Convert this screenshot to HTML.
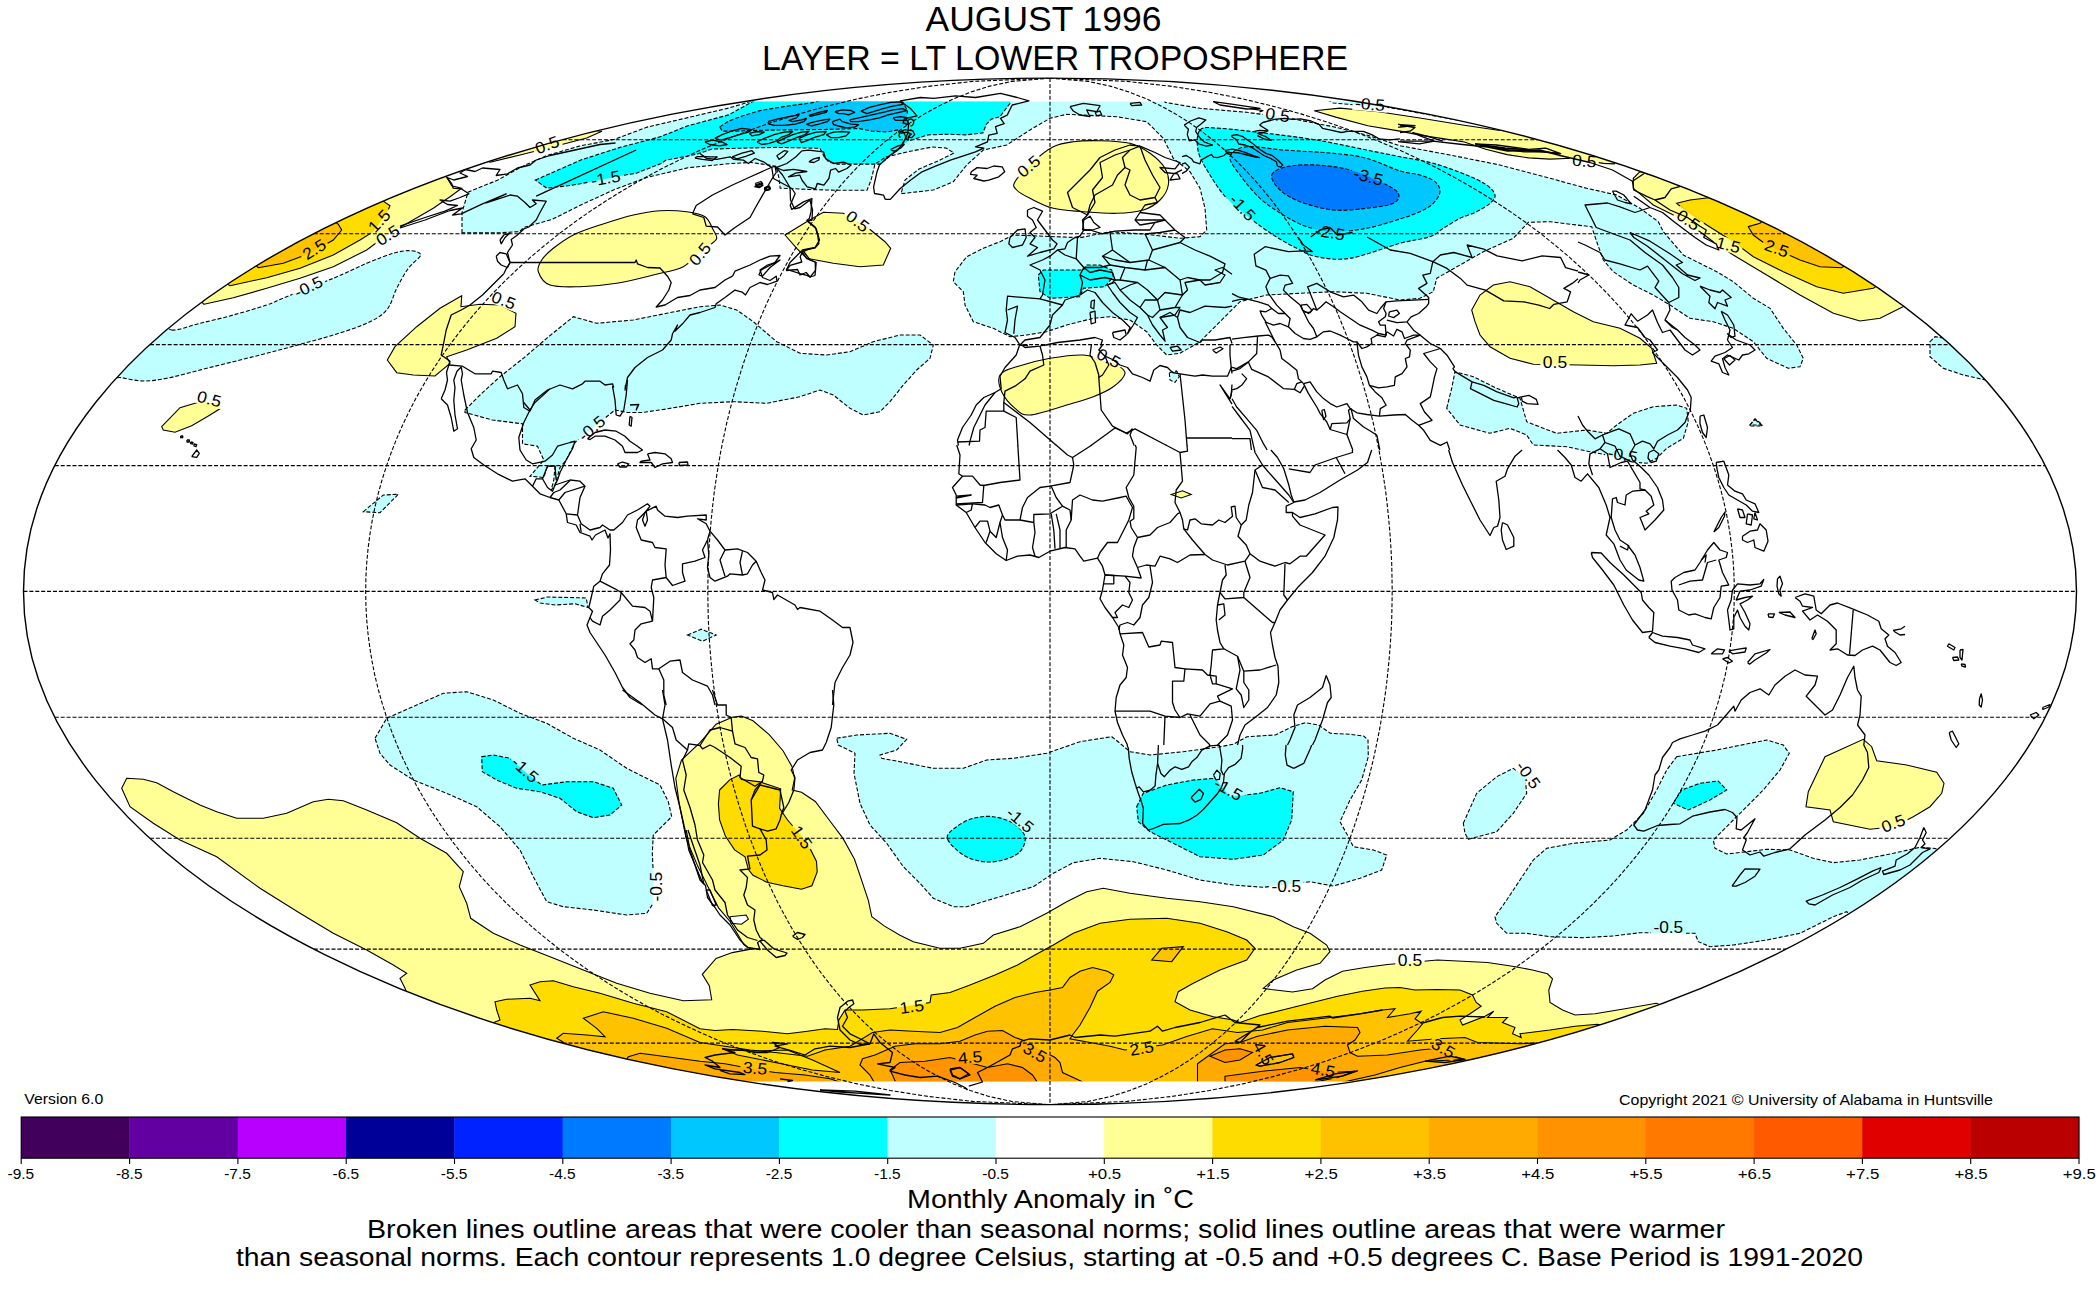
<!DOCTYPE html>
<html lang="en"><head><meta charset="utf-8"><title>UAH Global Temperature Anomaly - August 1996</title>
<style>html,body{margin:0;padding:0;background:#fff;}svg{display:block;}text{font-family:"Liberation Sans",sans-serif;fill:#000;}</style></head><body>
<svg width="2100" height="1300" viewBox="0 0 2100 1300">
<rect width="2100" height="1300" fill="#fff"/>
<defs><clipPath id="globe"><ellipse cx="1050.0" cy="591.4" rx="1026.5" ry="513.25"/></clipPath>
<clipPath id="data"><rect x="0" y="101.6" width="2100" height="979.6"/></clipPath></defs>
<g clip-path="url(#globe)"><g clip-path="url(#data)" stroke="none">
<path fill="#c0ffff" d="M462,232.9 462,212.6 468,192.2 497.9,180 522.3,166.4 546.7,155.6 579.3,146.1 614.6,139.3 647.2,127.1 687.9,117.6 728.6,108.1 755.7,99.9 760,80 1165,80 1165,102.3 1200,108.3 1246.7,112.3 1286.7,117.7 1333.3,126.7 1366.7,135 1400,145.7 1450,155 1500,165 1550,178.3 1586.7,188.3 1616.7,195 1640,208.3 1658.3,221.7 1663.3,231.7 1683.3,255 1716.7,271.7 1733.3,281.7 1753.3,298.3 1770,308.3 1783.3,328.3 1796.7,345 1803.3,358.3 1800,366.7 1788.3,368.3 1766.7,358.3 1753.3,341.7 1733.3,328.3 1713.3,321.7 1690,318.3 1670,305 1653.3,295 1633.3,285 1613.3,271.7 1603.3,260 1596.7,241.7 1591.7,226.7 1576.7,225 1550,221.7 1528.3,222.3 1513.3,238.3 1483.3,251.7 1460,265 1436.7,278.3 1433.3,291.7 1420,298.3 1400,300 1366.7,293.3 1333.3,291.7 1300,293.3 1266.7,295 1240,301.7 1220,321.7 1200,341.7 1180,353.3 1166.7,355 1156.7,345 1146.7,331.7 1130,320 1110,316.7 1093.3,318.3 1066.7,325 1046.7,331.7 1026.7,335 1010,336.7 993.3,328.3 973.3,321.7 965,305 963.3,291.7 953.3,281.7 955,271.7 966.7,256.7 983.3,248.3 1000,241.7 1013.3,235 1080,237.7 1110,231.7 1146.7,234.3 1180,238.3 1200,236.7 1206.7,230 1205,208.3 1200,188.3 1190,171.7 1173.3,158.3 1163.3,138.3 1146.7,121.7 1116.7,116.7 1066.7,114.3 1050,118.3 1030,130 1006.7,145 983.3,150 966.7,165 953.3,181.7 933.3,190 901,193.7 905,180 919,169 938,161 954,153 946,148 932,147 908,151.7 886,157 875,164 871.1,180 867,190.3 837.2,190.3 810,189.5 780.2,188.1 778.8,177.3 776.1,166.4 769.3,165.1 750.3,162.4 728.6,163.7 687.9,167.8 647.2,177.3 614.6,189.5 582,204.4 552.1,219.4 523.6,227.5 519.6,231.6 497.9,232.9Z"/>
<path fill="#00ffff" d="M535.3,180 560.3,169.1 582,159.6 620,147.4 660.7,136.6 687.9,125.7 728.6,114.9 755.7,99.9 760,80 1012,80 1010,103.3 1000,116.7 991.4,119.1 986.3,124.3 982.9,132.9 965.7,134.9 948.6,134.2 928,134.9 907.4,141.4 897.1,150 886.9,158.6 880,164.1 837.1,164.1 828.6,162 824.3,156.9 820,148.3 777.1,147.4 736,148.3 712,149.1 696.6,154.3 665.7,160.3 660.7,163.7 636.3,173.2 620,175.9 592.9,181.4 571.2,185.4 546.7,188.1Z"/>
<path fill="#00c8ff" d="M719.7,126.9 729.1,120.9 742.9,115.7 760,110.6 785.7,106.3 811.4,102.9 821.7,100.3 821.7,93.4 902.3,93.4 902.3,101.1 907.4,110.6 906.6,122.6 900.6,129.4 886.9,132 871.4,131.1 859.4,128.6 828.6,129.4 794.3,129.8 760,130.3 736,131.1 722.3,131.1Z"/>
<path fill="#00ffff" d="M1200,130C1203.6,126.1 1208.9,127.8 1220,128.3C1231.1,128.9 1250.6,131.4 1266.7,133.3C1282.8,135.3 1300,137.2 1316.7,140C1333.3,142.8 1352.8,147.2 1366.7,150C1380.6,152.8 1388.9,154.4 1400,156.7C1411.1,158.9 1422.2,160.3 1433.3,163.3C1444.4,166.4 1457.8,171.4 1466.7,175C1475.6,178.6 1481.9,181.7 1486.7,185C1491.4,188.3 1494.4,191.9 1495,195C1495.6,198.1 1493.1,200.6 1490,203.3C1486.9,206.1 1481.7,209.2 1476.7,211.7C1471.7,214.2 1465.6,215.6 1460,218.3C1454.4,221.1 1448.3,225.3 1443.3,228.3C1438.3,231.4 1437.2,234.2 1430,236.7C1422.8,239.2 1413.3,239.7 1400,243.3C1386.7,246.9 1363.9,256.1 1350,258.3C1336.1,260.6 1325.6,258.3 1316.7,256.7C1307.8,255 1303.9,251.9 1296.7,248.3C1289.4,244.7 1281.1,240 1273.3,235C1265.6,230 1257.8,224.4 1250,218.3C1242.2,212.2 1233.3,205.6 1226.7,198.3C1220,191.1 1214.7,182.8 1210,175C1205.3,167.2 1200,159.2 1198.3,151.7C1196.7,144.2 1196.4,133.9 1200,130Z"/>
<path fill="#00c8ff" d="M1230,156.7C1231.1,151.9 1237.8,147.8 1246.7,146.7C1255.6,145.6 1268.9,148.9 1283.3,150C1297.8,151.1 1319.4,151.9 1333.3,153.3C1347.2,154.7 1355.6,155.4 1366.7,158.3C1377.8,161.3 1391.1,168.2 1400,171C1408.9,173.8 1414.2,173.2 1420,175C1425.8,176.8 1431.7,178.9 1435,181.7C1438.3,184.4 1440.3,188.1 1440,191.7C1439.7,195.3 1436.7,200 1433.3,203.3C1430,206.7 1425.6,209.1 1420,211.7C1414.4,214.3 1408.9,216.2 1400,219C1391.1,221.8 1377.8,226.2 1366.7,228.3C1355.6,230.4 1343.3,231.9 1333.3,231.7C1323.3,231.4 1315,229.4 1306.7,226.7C1298.3,223.9 1291.1,219.7 1283.3,215C1275.6,210.3 1267.2,205 1260,198.3C1252.8,191.7 1245,181.9 1240,175C1235,168.1 1228.9,161.4 1230,156.7Z"/>
<path fill="#007aff" d="M1271.7,175C1272.8,171.1 1279.2,168.3 1286.7,166.7C1294.2,165 1306.1,164.4 1316.7,165C1327.2,165.6 1338.9,166.9 1350,170C1361.1,173.1 1375.3,179.4 1383.3,183.3C1391.4,187.2 1396.7,190 1398.3,193.3C1400,196.7 1398.6,200.8 1393.3,203.3C1388.1,205.8 1376.7,207.2 1366.7,208.3C1356.7,209.4 1344.4,211.1 1333.3,210C1322.2,208.9 1308.9,205 1300,201.7C1291.1,198.3 1284.7,194.4 1280,190C1275.3,185.6 1270.6,178.9 1271.7,175Z"/>
<path fill="#00ffff" d="M1038.3,275 1043.3,270 1083.3,270 1086.7,265 1100,265 1111.7,270 1113.3,276.7 1105,286.7 1083.3,288.3 1080,296.7 1050,298.3 1040,291.7Z"/>
<path fill="#ffff96" d="M204,304.3 233.3,297.7 266.7,288.3 300,278.3 333.3,266.7 366.7,250 386.7,235 410,221.7 433.3,208.3 450,196.7 461.7,188.3 451.7,185.7 447.3,178.3 440,165 373.3,188.3 306.7,220 250,253.3 195,295Z"/>
<path fill="#ffdc00" d="M230,285.7 266.7,277.7 300,268.3 333.3,255 360,240 373.3,231.7 386.7,213.3 390,205.7 384,201.7 376.7,190 308.3,221.7 253.3,255 223.3,281.7Z"/>
<path fill="#ffc200" d="M258.3,267.7 283.3,263.3 310,253.3 333.3,240 341.7,230 338.3,224.3 326.7,215 283.3,238.3 251.7,261.7Z"/>
<path fill="#c0ffff" d="M171.7,330C178.3,330.8 189.7,325.8 200,323.3C210.3,320.8 222.2,318.1 233.3,315C244.4,311.9 257.8,308.1 266.7,305C275.6,301.9 275.6,301.1 286.7,296.7C297.8,292.2 320,283.9 333.3,278.3C346.7,272.8 356.7,267.5 366.7,263.3C376.7,259.2 386.1,255.4 393.3,253.3C400.6,251.2 405.4,250.4 410,250.7C414.6,250.9 420.9,252.1 420.7,255C420.4,257.9 412.3,262.8 408.3,268.3C404.3,273.9 400.3,281.4 396.7,288.3C393.1,295.3 391.7,304.2 386.7,310C381.7,315.8 375.6,319.2 366.7,323.3C357.8,327.5 344.4,331.5 333.3,335C322.2,338.5 311.1,341.3 300,344.3C288.9,347.4 277.8,350.4 266.7,353.3C255.6,356.2 244.4,358.9 233.3,361.7C222.2,364.4 211.1,367.2 200,370C188.9,372.8 176.1,376.5 166.7,378.3C157.2,380.2 150.8,381.1 143.3,381C135.8,380.9 127.2,378.7 121.7,377.7C116.1,376.7 108.1,381.6 110,375C111.9,368.4 125,347.8 133.3,338.3C141.7,328.9 153.6,319.7 160,318.3C166.4,316.9 165,329.2 171.7,330Z"/>
<path fill="#ffff96" d="M161.7,426.7 180,407.7 200,401.7 216.7,403.3 220.7,408.3 210,415 191.7,425.7 175,432.3 163.3,430Z"/>
<path fill="#ffff96" d="M461.7,295.7 461,306.7 480,304.3 500,305 516,313.3 515,326.7 496.7,338.3 466.7,350 446.7,356.7 450,363.3 435,376 413.3,375 396.7,372.7 387.3,360 395,346.7 416.7,326.7 440,308.3Z"/>
<path fill="#ffff96" d="M490,162.3 520,155 560,145 586.7,138 602,131.3 586.7,130 486.7,156.7Z"/>
<path fill="#ffff96" d="M538.3,271.7C536.9,267.5 539.2,263.9 541.7,260C544.2,256.1 548.1,252.5 553.3,248.3C558.6,244.2 565.6,238.9 573.3,235C581.1,231.1 590,228.3 600,225C610,221.7 623.3,217.4 633.3,215C643.3,212.6 651.1,211.2 660,210.7C668.9,210.1 679.2,210.7 686.7,211.7C694.2,212.7 700.6,213.6 705,216.7C709.4,219.7 711.4,226.4 713.3,230C715.3,233.6 717.2,235.8 716.7,238.3C716.1,240.8 712.8,242.8 710,245C707.2,247.2 704.4,248.1 700,251.7C695.6,255.3 691.1,262.8 683.3,266.7C675.6,270.6 664.4,272.2 653.3,275C642.2,277.8 628.9,281.4 616.7,283.3C604.4,285.3 591.1,286.4 580,286.7C568.9,286.9 556.9,287.5 550,285C543.1,282.5 539.7,275.8 538.3,271.7Z"/>
<path fill="#c0ffff" d="M465,410 480,395 500,376.7 523.3,358.3 546.7,338.3 573.3,316.7 596.7,323.3 633.3,320 666.7,313.3 700,306.7 720,305 736.7,310 753.3,321.7 776.7,341.7 800,353.3 826.7,355 850,351.7 873.3,341.7 900,335 920,335 933.3,345 930,358.3 916.7,370 903.3,385 890,401.7 880,411.7 863.3,415 850,408.3 833.3,395 820,390 800,396.7 766.7,403.3 733.3,401.7 700,403.3 667.5,408.8 642.5,412.5 627.5,412.5 615,410 577.5,440 575,442.5 566.2,460 560,467.5 555,485 551.2,490 553.8,480 555,466.2 547.5,466.2 543.8,477.5 530,476.2 543.8,460 537.5,446.2 522.5,443.8 522.5,423.8 492.5,420 465,412.5Z"/>
<path fill="#ffff96" d="M1015,181.7C1017.8,176.9 1026.9,167.5 1033.3,161.7C1039.7,155.8 1046.7,150 1053.3,146.7C1060,143.3 1065.6,142.7 1073.3,141.7C1081.1,140.7 1090.6,140.4 1100,140.7C1109.4,140.9 1121.7,141.2 1130,143.3C1138.3,145.4 1144.2,149.2 1150,153.3C1155.8,157.5 1161.9,163.1 1165,168.3C1168.1,173.6 1169.2,179.7 1168.3,185C1167.5,190.3 1164.2,195.8 1160,200C1155.8,204.2 1150.6,207.8 1143.3,210C1136.1,212.2 1126.7,213.1 1116.7,213.3C1106.7,213.6 1093.9,212.5 1083.3,211.7C1072.8,210.8 1062.2,210.6 1053.3,208.3C1044.4,206.1 1036.1,201.4 1030,198.3C1023.9,195.3 1019.2,192.8 1016.7,190C1014.2,187.2 1012.2,186.4 1015,181.7Z"/>
<path fill="#ffff96" d="M785,235 806.7,221.7 823.3,212.3 843.3,213.3 866.7,226.7 885,241.7 890.7,248.3 883.3,265 860,266.7 833.3,263.3 806.7,258.3 796.7,248.3Z"/>
<path fill="#ffff96" d="M1000,375C1002.5,370.8 1008.3,369.4 1016.7,366.7C1025,363.9 1038.9,360.3 1050,358.3C1061.1,356.4 1075,354.7 1083.3,355C1091.7,355.3 1094.4,358.3 1100,360C1105.6,361.7 1112.5,362.8 1116.7,365C1120.8,367.2 1125.6,369.7 1125,373.3C1124.4,376.9 1118.6,382.8 1113.3,386.7C1108.1,390.6 1101.1,393.6 1093.3,396.7C1085.6,399.7 1077.2,401.9 1066.7,405C1056.1,408.1 1038.6,414.4 1030,415C1021.4,415.6 1019.7,412.2 1015,408.3C1010.3,404.4 1004.2,397.2 1001.7,391.7C999.2,386.1 997.5,379.2 1000,375Z"/>
<path fill="#ffff96" d="M1171.2,494.5 1182.5,490.8 1191.2,494.5 1181.2,498Z"/>
<path fill="#c0ffff" d="M1169.3,372.7 1176.7,371 1179.3,376.7 1175,382.3 1170,380Z"/>
<path fill="#ffff96" d="M1314.3,110.7 1340,108.1 1378.6,111.8 1421.4,118.2 1464.3,125.3 1496.4,130 1528.6,133.2 1571.4,142.9 1618.5,155.7 1614.3,163.9 1603.5,163.4 1571.4,158.3 1550,159.1 1528.6,157.9 1507.1,154.6 1485.7,149.3 1464.3,142 1442.8,138.6 1421.4,135.4 1400,131.1 1367.8,125.7 1335.7,117.1Z"/>
<path fill="#ffff96" d="M1633.3,178.3 1633.3,188.3 1653.3,205 1673.3,215 1700,231.7 1713.3,241.7 1733.3,255 1766.7,275 1800,295 1833.3,313.3 1860,321 1880,318.3 1900,308.3 1913.3,301.7 1850,261.7 1766.7,215 1716.7,195 1640,171.7Z"/>
<path fill="#ffdc00" d="M1676.7,203.3 1686.7,211.7 1706.7,225 1733.3,241.7 1753.3,256.7 1783.3,271.7 1816.7,286.7 1843.3,293.3 1873.3,288.3 1883.3,281.7 1846.7,260 1766.7,216.7 1716.7,196.7 1690,200Z"/>
<path fill="#ffc200" d="M1748.3,226.7 1753.3,235 1766.7,245 1800,260 1820,266.7 1841.7,267.7 1850,261.7 1766.7,216.7 1760,223.3Z"/>
<path fill="#ffff96" d="M1471.7,310 1480,295 1493.3,285 1510,281.7 1530,286.7 1550,298.3 1573.3,311.7 1593.3,321.7 1620,328.3 1640,338.3 1651.7,348.3 1656.7,363.3 1640,365 1613.3,365.7 1580,365 1533.3,364.3 1510,358.3 1490,346.7 1480,335 1475,321.7Z"/>
<path fill="#c0ffff" d="M1446.7,408.3 1451.7,388.3 1455,371.7 1473.3,376.7 1496.7,388.3 1520,398.3 1526.7,421.7 1543.3,428.3 1556.7,433.3 1586.7,430 1606.7,433.3 1616.7,425 1633.3,413.3 1653.3,406.7 1676.7,405 1686.7,408.3 1688.3,421.7 1683.3,438.3 1666.7,448.3 1656.7,458.3 1646.7,463.3 1630,461.7 1606.7,455 1590,451.7 1566.7,446.7 1533.3,445 1526.7,435 1510,428.3 1490,433.3 1460,425Z"/>
<path fill="#c0ffff" d="M1930,341.7 1935,336.7 1966.7,341.7 1993.3,381.7 1963.3,375 1943.3,368.3 1930,356.7Z"/>
<path fill="#c0ffff" d="M1755,419.3 1762.3,426 1749.3,426Z"/>
<path fill="#c0ffff" d="M375,738.3 386.7,718.3 416.7,705 443.3,693.3 466.7,691.7 493.3,700 520,713.3 546.7,723.3 573.3,738.3 600,750 626.7,768.3 660,785 668.3,801.7 671.7,816.7 653.3,835 652.3,853.3 653.3,873.3 653.3,903.3 646.7,913.3 626.7,915 593.3,910 563.3,906.7 546.7,901.7 533.3,876.7 520,850 500,826.7 476.7,806.7 446.7,793.3 413.3,780 390,765 380,753.3Z"/>
<path fill="#00ffff" d="M481.7,756.7 493.3,755 510,758.3 526.7,773.3 541.7,785 566.7,781.7 593.3,781.7 613.3,788.3 621.7,805 610,815 593.3,817.7 576.7,811.7 560,798.3 540,791.7 516.7,788.3 496.7,780 482.3,771.7Z"/>
<path fill="#ffff96" d="M121.7,788.3 126.7,778.3 143.3,779.3 156.7,782.7 173.3,791.7 200,805 216.7,811.7 236.7,818.3 263.3,818.3 286.7,813.3 313.3,801.7 328.3,799.3 343.3,800.7 366.7,810 396.7,822.7 420,838.3 446.7,853.3 463.3,871.7 459.3,886.7 466.7,903.3 470.7,918.3 493.3,933.3 520,945 550,956.7 583.3,970 616.7,983.3 650,993.3 683.3,1000.7 711.7,999.7 709.3,985.7 702.3,974.3 716.1,958.4 732.3,952.6 750.7,949.1 743.8,944.5 736.9,933 730,921.5 718.4,907.6 709.2,889.2 697.7,866.1 686.1,838.4 679.2,803.8 675.8,778.4 681.5,760 700,742.7 716.1,724.2 732.3,717.3 741.5,716.1 753,720.8 769.2,734.6 783,750.7 792.2,766.9 794.6,778.4 792.2,790 801.5,792.3 815.3,801.5 829.2,820 843,838.4 854.5,859.2 861.5,879.9 868.4,900.7 871.8,916.8 884.5,926.1 900,935.3 913.3,941.7 940,948.3 960,948.3 983.3,943.3 993.3,935 1020,926.7 1046.7,913.3 1066.7,901.7 1086.7,891.7 1103.3,888.3 1130,893.3 1166.7,898.3 1200,901.7 1233.3,906.7 1273.3,916.7 1293.3,926.7 1310,933.3 1326.7,945 1330,951.7 1320,963.3 1296.7,970 1273.3,980 1263.3,988.3 1271.2,989.5 1292.5,992 1312.5,988.8 1325,980 1342.5,971.2 1365,967.5 1387.5,964.5 1437.5,960 1462.5,961.2 1487.5,962.5 1512.5,966.2 1532.5,970 1547.5,973.8 1552.5,978.8 1548.8,990 1550,1002.5 1562.5,1010 1575,1015 1595,1013.8 1625,1008.8 1656.2,1003.2 1690,1015 1500,1125 1050,1135 600,1105 415,1015 405,988.3 400,978.3 406.7,973.3 393.3,965 366.7,950 333.3,933.3 300,913.3 260,888.3 216.7,856.7 180,840 153.3,823.3 130,806.7Z"/>
<path fill="#ffffff" d="M730,916.8 746.1,915 748.4,919.1 741.5,924.2 731.1,923.3Z"/>
<path fill="#ffdc00" d="M719.6,790 730,779.6 739.2,775 741.5,779.6 760,781.9 780.7,788.8 779.6,808.4 787.6,820 801.5,836.1 810.7,849.9 816.5,861.5 817.2,871.9 811.9,885.7 801.5,889.2 783,885.7 766.9,882.2 753,875.3 748.4,869.6 745,856.9 734.6,849.9 725.4,836.1 719.6,820 718.4,803.8Z"/>
<path fill="#ffdc00" d="M495,1001.7 506.7,999.3 530,998.3 540,1000.7 530,985 540,981.7 553.3,980.7 573.3,986.7 600,993.3 633.3,1003.3 666.7,1011.7 700,1028.8 715,1030.5 732.5,1029.5 762.5,1031.2 787.5,1033.8 807.5,1031.2 825,1028.8 837.5,1029.5 838.8,1020 845,1010 862.5,1010 890,1008.8 930,1002.5 931.2,995 950,992.5 970,985 995,975 1017.5,965 1035,955 1053.3,945 1073.3,933.3 1100,923.3 1130,919.3 1166.7,918.3 1200,923.3 1226.7,931.7 1246.7,940 1255,948.3 1246.7,960 1220,970 1193.3,983.3 1178.3,991.7 1175,1001.7 1190,1010 1213.3,1016.7 1233.3,1020 1240,1022.5 1260,1015.5 1287.5,1008.8 1312.5,1002.5 1337.5,996.2 1362.5,991.2 1385,988 1400,987.5 1415,990 1437.5,989.5 1460,990 1472.5,995 1476.2,1002.5 1481.2,1006.2 1470,1013.8 1460,1020 1462.5,1025 1485,1016.2 1493.8,1011.2 1487.5,1017.5 1507.5,1017.5 1502.5,1022.5 1515,1027.5 1512.5,1033.8 1521.2,1037.5 1520,1033.8 1550,1030 1575,1026.2 1597.5,1024.2 1625,1032 1400,1125 1050,1135 700,1115 475,1030 500,1020 496.7,1010Z"/>
<path fill="#ffc200" d="M1151.7,960 1161.7,948.3 1183.3,946.7 1171.7,961.7Z"/>
<path fill="#ffc200" d="M583.3,1018.3 603.3,1011.7 633.3,1018.3 666.7,1028.3 700,1042.5 725,1046.2 750,1050 775,1052.5 807.5,1056.2 825,1050 850,1046.2 872.5,1032.5 890,1030 912.5,1031.2 940,1032.5 957.5,1027.5 975,1017.5 995,1006.2 1015,997.5 1035,992.5 1050,990 1062.5,987.5 1070,977.5 1080,971.2 1092.5,967.5 1107.5,971.2 1113.8,975 1110,982.5 1097.5,991.2 1090,1007.5 1080,1025 1072.5,1035 1070,1038.8 1090,1042.5 1110,1046.2 1125,1050 1162.5,1045 1187.5,1036.2 1212.5,1028.8 1237.5,1032.5 1262.5,1030 1287.5,1022.5 1330,1017.5 1360,1013.8 1382.5,1010 1395,1008.8 1387.5,1017.5 1410,1013.8 1421.2,1011.2 1415,1018.8 1422.5,1023.8 1417.5,1030 1407.5,1041.2 1437.5,1038.8 1465,1037.5 1477.5,1042.5 1520,1043.8 1535,1043 1565,1052 1400,1125 1050,1135 700,1120 545,1052 563.3,1042.3 556.7,1038.3 563.3,1033.3 586.7,1035 605,1036.7 596.7,1028.3Z"/>
<path fill="#ffdc00" d="M722.5,1048.8 750,1051.2 787.5,1050 812.5,1060 840,1072.5 812.5,1070 775,1062.5 737.5,1055Z"/>
<path fill="#ffaa00" d="M860,1065 862.5,1058.8 875,1055 895,1046.2 915,1043.8 940,1043.8 960,1041.2 975,1035 987.5,1031.2 1002.5,1030.5 1015,1037.5 1022.5,1040 1055,1057.5 1060,1062.5 1062.5,1072.5 1082.5,1081.8 1082.5,1092.5 880,1092.5 870,1075Z"/>
<path fill="#ffaa00" d="M628.3,1056.7 640,1053.3 666.7,1056.7 700,1061.2 725,1063.8 745,1067.5 775,1072.5 805,1075 830,1078.8 845,1083.8 850,1105 615,1078Z"/>
<path fill="#ffaa00" d="M1197.5,1063.8 1225,1043.8 1240,1042.5 1257.5,1036.2 1287.5,1030 1325,1026.2 1357.5,1027.5 1360,1032.5 1355,1040 1347.5,1045 1350,1052.5 1357.5,1056.2 1387.5,1055 1420,1050 1432.5,1048.8 1450,1055 1465,1059.5 1425,1061.2 1400,1067.5 1375,1075 1325,1086.2 1225,1097.5 1197.5,1090Z"/>
<path fill="#ffc200" d="M1256.2,1065 1270,1057.5 1292.5,1053.8 1293.8,1057.5 1280,1062.5 1260,1066.2Z"/>
<path fill="#ff9200" d="M890,1070 900,1062.5 925,1061.2 950,1057.5 987.5,1067.5 1007.5,1063.8 1022.5,1067.5 1032.5,1075 1037.5,1082.5 1037.5,1092.5 900,1092.5 892.5,1075Z"/>
<path fill="#ff9200" d="M1225,1050 1240,1048.8 1252.5,1052.5 1240,1060 1225,1062.5 1210,1056.2Z"/>
<path fill="#ff9200" d="M1225,1076.2 1262.5,1071.2 1300,1067.5 1330,1072.5 1355,1071.2 1337.5,1077.5 1312.5,1082.5 1225,1092.5Z"/>
<path fill="#c0ffff" d="M836.7,738.3 856.7,735 890,733.3 906.7,739.3 896.7,750 880,755 881.7,758.3 900,761.7 933.3,768.3 963.3,768.3 986.7,760 1013.3,758.3 1046.7,753.3 1080,741.7 1111.7,736.7 1120,743.3 1130,751.7 1150,755 1183.3,751.7 1220,746.7 1233.3,744.3 1247,736.7 1275.3,735 1292,726.7 1305.3,722.7 1318.7,725 1330.3,733.3 1350.3,734.3 1363.7,736 1368,740 1368.3,756.7 1361.7,780 1350,800 1340,821.7 1348.3,836.7 1353.3,846.7 1373.3,850 1386.7,855 1381.7,870 1360,878.3 1333.3,886 1310,881.7 1263.3,887.3 1233.3,885 1200,880 1166.7,870 1133.3,861.7 1100,858.3 1073.3,862.7 1053.3,873.3 1033.3,886.7 1000,896.7 966.7,906.7 953.3,906.7 933.3,898.3 920,883.3 903.3,866.7 886.7,843.3 870,825 860,803.3 854,773.3 855,753.3 838.3,745Z"/>
<path fill="#00ffff" d="M947.3,838.3C946.2,833.6 952.3,830 956.7,826.7C961,823.3 967.2,820 973.3,818.3C979.4,816.7 986.7,815.8 993.3,816.7C1000,817.5 1008.1,820 1013.3,823.3C1018.6,826.7 1023.9,831.9 1025,836.7C1026.1,841.4 1023.6,847.8 1020,851.7C1016.4,855.6 1009.4,858.3 1003.3,860C997.2,861.7 990,862.5 983.3,861.7C976.7,860.8 969.3,858.9 963.3,855C957.3,851.1 948.4,843.1 947.3,838.3Z"/>
<path fill="#00ffff" d="M1136.7,806.7 1143.3,793.3 1166.7,785 1193.3,780 1215,778.3 1230,796.7 1260,793.3 1280,787.7 1293.3,791.7 1291.7,820 1283.3,840 1263.3,855 1233.3,859.3 1200,856.7 1173.3,843.3 1150,831.7 1138.3,821.7Z"/>
<path fill="#c0ffff" d="M1463.3,823.3 1476.7,793.3 1496.7,776.7 1513.3,768.3 1525,776.7 1526.7,793.3 1513.3,813.3 1496.7,831.7 1468.3,839.3 1465,833.3Z"/>
<path fill="#c0ffff" d="M1676.7,756.7 1716.7,750 1750,743.3 1766.7,740 1783.3,745 1789.3,753.3 1780,770 1763.3,790 1746.7,806.7 1733.3,820 1720,833.3 1713.3,840 1715,848.3 1726.7,854 1746.7,851.7 1766.7,849.3 1790,850 1813.3,858.3 1833.3,862.7 1860,860 1893.3,853.3 1920,847.3 1933.3,848.3 1960,853.3 1906.7,903.3 1863.3,926.7 1846.7,911.7 1833.3,916.7 1800,933.3 1766.7,940 1733.3,945 1710,946.7 1698.3,941.7 1695,933.3 1640,932.7 1613.3,936 1583.3,937.7 1550,936.7 1526.7,933.3 1506.7,933.3 1496.7,923.3 1495,916.7 1506.7,900 1520,880 1533.3,860 1546.7,848.3 1573.3,843.3 1610,840 1626.7,830 1643.3,813.3 1656.7,790 1666.7,770Z"/>
<path fill="#00ffff" d="M1673.3,803.3 1681.7,790 1700,783.3 1718.3,781 1726.7,790 1710,800 1688.3,810Z"/>
<path fill="#ffff96" d="M1806,806.7 1808.3,791.7 1825,756.7 1863.3,739.3 1871.7,746.7 1876.7,760.7 1906.7,765 1936.7,772.3 1944,783.3 1941.7,793.3 1930,806.7 1913.3,816.7 1893.3,826.7 1870,829.3 1833.3,821.7 1830,810Z"/>
<path fill="#c0ffff" d="M535,600 547.5,597 570,597.5 586.2,598 588,607.5 575,603.8 555,605 540,603Z"/>
<path fill="#c0ffff" d="M687.5,635 701.2,629.2 716.2,635 702.5,641.2Z"/>
<path fill="#c0ffff" d="M1750,425 1755,418.8 1762.5,425Z"/>
<path fill="#c0ffff" d="M363.3,511.7 383.3,495 398.3,494.3 380,512.7Z"/>
<path fill="#c0ffff" d="M1316.7,95 1333.3,103 1353.3,104.7 1386.7,107.3 1400,109.3 1433.3,115.7 1466.7,121.7 1466.7,95Z"/>
<mask id="lm" maskUnits="userSpaceOnUse" x="0" y="0" width="2100" height="1300"><rect width="2100" height="1300" fill="#fff"/>
<rect transform="translate(547.1,145) rotate(-21)" x="-14.7" y="-7" width="29.3" height="14" fill="#000"/>
<rect transform="translate(605.6,178.4) rotate(-10)" x="-17.4" y="-7" width="34.8" height="14" fill="#000"/>
<rect transform="translate(379.3,221) rotate(-47)" x="-14.7" y="-7" width="29.3" height="14" fill="#000"/>
<rect transform="translate(387.7,235.2) rotate(-32)" x="-14.7" y="-7" width="29.3" height="14" fill="#000"/>
<rect transform="translate(314.2,249.4) rotate(-32)" x="-14.7" y="-7" width="29.3" height="14" fill="#000"/>
<rect transform="translate(308.4,287) rotate(-26)" x="-17.4" y="-7" width="34.8" height="14" fill="#000"/>
<rect transform="translate(503.7,300.3) rotate(21)" x="-14.7" y="-7" width="29.3" height="14" fill="#000"/>
<rect transform="translate(209.3,399) rotate(15)" x="-14.7" y="-7" width="29.3" height="14" fill="#000"/>
<rect transform="translate(591.7,428.3) rotate(-40)" x="-17.4" y="-7" width="34.8" height="14" fill="#000"/>
<rect transform="translate(700,254) rotate(-50)" x="-14.7" y="-7" width="29.3" height="14" fill="#000"/>
<rect transform="translate(857.5,221.3) rotate(38)" x="-14.7" y="-7" width="29.3" height="14" fill="#000"/>
<rect transform="translate(1028.7,166.3) rotate(-40)" x="-14.7" y="-7" width="29.3" height="14" fill="#000"/>
<rect transform="translate(905.5,131.3) rotate(-72)" x="-17.4" y="-7" width="34.8" height="14" fill="#000"/>
<rect transform="translate(1277.5,115) rotate(8)" x="-14.7" y="-7" width="29.3" height="14" fill="#000"/>
<rect transform="translate(1370,104.3) rotate(5)" x="-17.4" y="-7" width="34.8" height="14" fill="#000"/>
<rect transform="translate(1368.3,176.7) rotate(15)" x="-17.4" y="-7" width="34.8" height="14" fill="#000"/>
<rect transform="translate(1242.5,207.5) rotate(47)" x="-17.4" y="-7" width="34.8" height="14" fill="#000"/>
<rect transform="translate(1330,232.5) rotate(10)" x="-17.4" y="-7" width="34.8" height="14" fill="#000"/>
<rect transform="translate(1108.7,358.2) rotate(28)" x="-14.7" y="-7" width="29.3" height="14" fill="#000"/>
<rect transform="translate(1584.3,161) rotate(5)" x="-14.7" y="-7" width="29.3" height="14" fill="#000"/>
<rect transform="translate(1688.3,220) rotate(35)" x="-14.7" y="-7" width="29.3" height="14" fill="#000"/>
<rect transform="translate(1728.3,245) rotate(15)" x="-14.7" y="-7" width="29.3" height="14" fill="#000"/>
<rect transform="translate(1776.7,248.3) rotate(20)" x="-14.7" y="-7" width="29.3" height="14" fill="#000"/>
<rect transform="translate(1555,362.7) rotate(0)" x="-14.7" y="-7" width="29.3" height="14" fill="#000"/>
<rect transform="translate(1622.7,455) rotate(10)" x="-17.4" y="-7" width="34.8" height="14" fill="#000"/>
<rect transform="translate(525,769.8) rotate(42)" x="-17.4" y="-7" width="34.8" height="14" fill="#000"/>
<rect transform="translate(656,886.7) rotate(-90)" x="-17.4" y="-7" width="34.8" height="14" fill="#000"/>
<rect transform="translate(801.7,837.3) rotate(55)" x="-14.7" y="-7" width="29.3" height="14" fill="#000"/>
<rect transform="translate(1020,820) rotate(40)" x="-17.4" y="-7" width="34.8" height="14" fill="#000"/>
<rect transform="translate(1228.3,789.3) rotate(30)" x="-17.4" y="-7" width="34.8" height="14" fill="#000"/>
<rect transform="translate(1286.3,886.2) rotate(0)" x="-17.4" y="-7" width="34.8" height="14" fill="#000"/>
<rect transform="translate(911.7,1006.7) rotate(-8)" x="-14.7" y="-7" width="29.3" height="14" fill="#000"/>
<rect transform="translate(970,1057.3) rotate(-5)" x="-14.7" y="-7" width="29.3" height="14" fill="#000"/>
<rect transform="translate(1035,1052.7) rotate(30)" x="-14.7" y="-7" width="29.3" height="14" fill="#000"/>
<rect transform="translate(1141.7,1048.3) rotate(-10)" x="-14.7" y="-7" width="29.3" height="14" fill="#000"/>
<rect transform="translate(1263.3,1053.3) rotate(60)" x="-14.7" y="-7" width="29.3" height="14" fill="#000"/>
<rect transform="translate(755,1068.3) rotate(5)" x="-14.7" y="-7" width="29.3" height="14" fill="#000"/>
<rect transform="translate(1323,1070) rotate(10)" x="-14.7" y="-7" width="29.3" height="14" fill="#000"/>
<rect transform="translate(1528.3,775) rotate(54)" x="-17.4" y="-7" width="34.8" height="14" fill="#000"/>
<rect transform="translate(1893.3,823.3) rotate(-21)" x="-14.7" y="-7" width="29.3" height="14" fill="#000"/>
<rect transform="translate(1668.3,927.3) rotate(0)" x="-17.4" y="-7" width="34.8" height="14" fill="#000"/>
<rect transform="translate(1410,960.7) rotate(0)" x="-14.7" y="-7" width="29.3" height="14" fill="#000"/>
<rect transform="translate(1443.3,1048.3) rotate(30)" x="-14.7" y="-7" width="29.3" height="14" fill="#000"/>
</mask>
<g fill="none" stroke="#000" stroke-width="1.1" mask="url(#lm)">
<path stroke-dasharray="4 1.9" d="M462,232.9 462,212.6 468,192.2 497.9,180 522.3,166.4 546.7,155.6 579.3,146.1 614.6,139.3 647.2,127.1 687.9,117.6 728.6,108.1 755.7,99.9 760,80 1165,80 1165,102.3 1200,108.3 1246.7,112.3 1286.7,117.7 1333.3,126.7 1366.7,135 1400,145.7 1450,155 1500,165 1550,178.3 1586.7,188.3 1616.7,195 1640,208.3 1658.3,221.7 1663.3,231.7 1683.3,255 1716.7,271.7 1733.3,281.7 1753.3,298.3 1770,308.3 1783.3,328.3 1796.7,345 1803.3,358.3 1800,366.7 1788.3,368.3 1766.7,358.3 1753.3,341.7 1733.3,328.3 1713.3,321.7 1690,318.3 1670,305 1653.3,295 1633.3,285 1613.3,271.7 1603.3,260 1596.7,241.7 1591.7,226.7 1576.7,225 1550,221.7 1528.3,222.3 1513.3,238.3 1483.3,251.7 1460,265 1436.7,278.3 1433.3,291.7 1420,298.3 1400,300 1366.7,293.3 1333.3,291.7 1300,293.3 1266.7,295 1240,301.7 1220,321.7 1200,341.7 1180,353.3 1166.7,355 1156.7,345 1146.7,331.7 1130,320 1110,316.7 1093.3,318.3 1066.7,325 1046.7,331.7 1026.7,335 1010,336.7 993.3,328.3 973.3,321.7 965,305 963.3,291.7 953.3,281.7 955,271.7 966.7,256.7 983.3,248.3 1000,241.7 1013.3,235 1080,237.7 1110,231.7 1146.7,234.3 1180,238.3 1200,236.7 1206.7,230 1205,208.3 1200,188.3 1190,171.7 1173.3,158.3 1163.3,138.3 1146.7,121.7 1116.7,116.7 1066.7,114.3 1050,118.3 1030,130 1006.7,145 983.3,150 966.7,165 953.3,181.7 933.3,190 901,193.7 905,180 919,169 938,161 954,153 946,148 932,147 908,151.7 886,157 875,164 871.1,180 867,190.3 837.2,190.3 810,189.5 780.2,188.1 778.8,177.3 776.1,166.4 769.3,165.1 750.3,162.4 728.6,163.7 687.9,167.8 647.2,177.3 614.6,189.5 582,204.4 552.1,219.4 523.6,227.5 519.6,231.6 497.9,232.9Z"/>
<path stroke-dasharray="4 1.9" d="M535.3,180 560.3,169.1 582,159.6 620,147.4 660.7,136.6 687.9,125.7 728.6,114.9 755.7,99.9 760,80 1012,80 1010,103.3 1000,116.7 991.4,119.1 986.3,124.3 982.9,132.9 965.7,134.9 948.6,134.2 928,134.9 907.4,141.4 897.1,150 886.9,158.6 880,164.1 837.1,164.1 828.6,162 824.3,156.9 820,148.3 777.1,147.4 736,148.3 712,149.1 696.6,154.3 665.7,160.3 660.7,163.7 636.3,173.2 620,175.9 592.9,181.4 571.2,185.4 546.7,188.1Z"/>
<path stroke-dasharray="4 1.9" d="M719.7,126.9 729.1,120.9 742.9,115.7 760,110.6 785.7,106.3 811.4,102.9 821.7,100.3 821.7,93.4 902.3,93.4 902.3,101.1 907.4,110.6 906.6,122.6 900.6,129.4 886.9,132 871.4,131.1 859.4,128.6 828.6,129.4 794.3,129.8 760,130.3 736,131.1 722.3,131.1Z"/>
<path stroke-dasharray="4 1.9" d="M1200,130C1203.6,126.1 1208.9,127.8 1220,128.3C1231.1,128.9 1250.6,131.4 1266.7,133.3C1282.8,135.3 1300,137.2 1316.7,140C1333.3,142.8 1352.8,147.2 1366.7,150C1380.6,152.8 1388.9,154.4 1400,156.7C1411.1,158.9 1422.2,160.3 1433.3,163.3C1444.4,166.4 1457.8,171.4 1466.7,175C1475.6,178.6 1481.9,181.7 1486.7,185C1491.4,188.3 1494.4,191.9 1495,195C1495.6,198.1 1493.1,200.6 1490,203.3C1486.9,206.1 1481.7,209.2 1476.7,211.7C1471.7,214.2 1465.6,215.6 1460,218.3C1454.4,221.1 1448.3,225.3 1443.3,228.3C1438.3,231.4 1437.2,234.2 1430,236.7C1422.8,239.2 1413.3,239.7 1400,243.3C1386.7,246.9 1363.9,256.1 1350,258.3C1336.1,260.6 1325.6,258.3 1316.7,256.7C1307.8,255 1303.9,251.9 1296.7,248.3C1289.4,244.7 1281.1,240 1273.3,235C1265.6,230 1257.8,224.4 1250,218.3C1242.2,212.2 1233.3,205.6 1226.7,198.3C1220,191.1 1214.7,182.8 1210,175C1205.3,167.2 1200,159.2 1198.3,151.7C1196.7,144.2 1196.4,133.9 1200,130Z"/>
<path stroke-dasharray="4 1.9" d="M1230,156.7C1231.1,151.9 1237.8,147.8 1246.7,146.7C1255.6,145.6 1268.9,148.9 1283.3,150C1297.8,151.1 1319.4,151.9 1333.3,153.3C1347.2,154.7 1355.6,155.4 1366.7,158.3C1377.8,161.3 1391.1,168.2 1400,171C1408.9,173.8 1414.2,173.2 1420,175C1425.8,176.8 1431.7,178.9 1435,181.7C1438.3,184.4 1440.3,188.1 1440,191.7C1439.7,195.3 1436.7,200 1433.3,203.3C1430,206.7 1425.6,209.1 1420,211.7C1414.4,214.3 1408.9,216.2 1400,219C1391.1,221.8 1377.8,226.2 1366.7,228.3C1355.6,230.4 1343.3,231.9 1333.3,231.7C1323.3,231.4 1315,229.4 1306.7,226.7C1298.3,223.9 1291.1,219.7 1283.3,215C1275.6,210.3 1267.2,205 1260,198.3C1252.8,191.7 1245,181.9 1240,175C1235,168.1 1228.9,161.4 1230,156.7Z"/>
<path stroke-dasharray="4 1.9" d="M1271.7,175C1272.8,171.1 1279.2,168.3 1286.7,166.7C1294.2,165 1306.1,164.4 1316.7,165C1327.2,165.6 1338.9,166.9 1350,170C1361.1,173.1 1375.3,179.4 1383.3,183.3C1391.4,187.2 1396.7,190 1398.3,193.3C1400,196.7 1398.6,200.8 1393.3,203.3C1388.1,205.8 1376.7,207.2 1366.7,208.3C1356.7,209.4 1344.4,211.1 1333.3,210C1322.2,208.9 1308.9,205 1300,201.7C1291.1,198.3 1284.7,194.4 1280,190C1275.3,185.6 1270.6,178.9 1271.7,175Z"/>
<path stroke-dasharray="4 1.9" d="M1038.3,275 1043.3,270 1083.3,270 1086.7,265 1100,265 1111.7,270 1113.3,276.7 1105,286.7 1083.3,288.3 1080,296.7 1050,298.3 1040,291.7Z"/>
<path d="M204,304.3 233.3,297.7 266.7,288.3 300,278.3 333.3,266.7 366.7,250 386.7,235 410,221.7 433.3,208.3 450,196.7 461.7,188.3 451.7,185.7 447.3,178.3 440,165 373.3,188.3 306.7,220 250,253.3 195,295Z"/>
<path d="M230,285.7 266.7,277.7 300,268.3 333.3,255 360,240 373.3,231.7 386.7,213.3 390,205.7 384,201.7 376.7,190 308.3,221.7 253.3,255 223.3,281.7Z"/>
<path d="M258.3,267.7 283.3,263.3 310,253.3 333.3,240 341.7,230 338.3,224.3 326.7,215 283.3,238.3 251.7,261.7Z"/>
<path stroke-dasharray="4 1.9" d="M171.7,330C178.3,330.8 189.7,325.8 200,323.3C210.3,320.8 222.2,318.1 233.3,315C244.4,311.9 257.8,308.1 266.7,305C275.6,301.9 275.6,301.1 286.7,296.7C297.8,292.2 320,283.9 333.3,278.3C346.7,272.8 356.7,267.5 366.7,263.3C376.7,259.2 386.1,255.4 393.3,253.3C400.6,251.2 405.4,250.4 410,250.7C414.6,250.9 420.9,252.1 420.7,255C420.4,257.9 412.3,262.8 408.3,268.3C404.3,273.9 400.3,281.4 396.7,288.3C393.1,295.3 391.7,304.2 386.7,310C381.7,315.8 375.6,319.2 366.7,323.3C357.8,327.5 344.4,331.5 333.3,335C322.2,338.5 311.1,341.3 300,344.3C288.9,347.4 277.8,350.4 266.7,353.3C255.6,356.2 244.4,358.9 233.3,361.7C222.2,364.4 211.1,367.2 200,370C188.9,372.8 176.1,376.5 166.7,378.3C157.2,380.2 150.8,381.1 143.3,381C135.8,380.9 127.2,378.7 121.7,377.7C116.1,376.7 108.1,381.6 110,375C111.9,368.4 125,347.8 133.3,338.3C141.7,328.9 153.6,319.7 160,318.3C166.4,316.9 165,329.2 171.7,330Z"/>
<path d="M161.7,426.7 180,407.7 200,401.7 216.7,403.3 220.7,408.3 210,415 191.7,425.7 175,432.3 163.3,430Z"/>
<path d="M461.7,295.7 461,306.7 480,304.3 500,305 516,313.3 515,326.7 496.7,338.3 466.7,350 446.7,356.7 450,363.3 435,376 413.3,375 396.7,372.7 387.3,360 395,346.7 416.7,326.7 440,308.3Z"/>
<path d="M490,162.3 520,155 560,145 586.7,138 602,131.3 586.7,130 486.7,156.7Z"/>
<path d="M538.3,271.7C536.9,267.5 539.2,263.9 541.7,260C544.2,256.1 548.1,252.5 553.3,248.3C558.6,244.2 565.6,238.9 573.3,235C581.1,231.1 590,228.3 600,225C610,221.7 623.3,217.4 633.3,215C643.3,212.6 651.1,211.2 660,210.7C668.9,210.1 679.2,210.7 686.7,211.7C694.2,212.7 700.6,213.6 705,216.7C709.4,219.7 711.4,226.4 713.3,230C715.3,233.6 717.2,235.8 716.7,238.3C716.1,240.8 712.8,242.8 710,245C707.2,247.2 704.4,248.1 700,251.7C695.6,255.3 691.1,262.8 683.3,266.7C675.6,270.6 664.4,272.2 653.3,275C642.2,277.8 628.9,281.4 616.7,283.3C604.4,285.3 591.1,286.4 580,286.7C568.9,286.9 556.9,287.5 550,285C543.1,282.5 539.7,275.8 538.3,271.7Z"/>
<path stroke-dasharray="4 1.9" d="M465,410 480,395 500,376.7 523.3,358.3 546.7,338.3 573.3,316.7 596.7,323.3 633.3,320 666.7,313.3 700,306.7 720,305 736.7,310 753.3,321.7 776.7,341.7 800,353.3 826.7,355 850,351.7 873.3,341.7 900,335 920,335 933.3,345 930,358.3 916.7,370 903.3,385 890,401.7 880,411.7 863.3,415 850,408.3 833.3,395 820,390 800,396.7 766.7,403.3 733.3,401.7 700,403.3 667.5,408.8 642.5,412.5 627.5,412.5 615,410 577.5,440 575,442.5 566.2,460 560,467.5 555,485 551.2,490 553.8,480 555,466.2 547.5,466.2 543.8,477.5 530,476.2 543.8,460 537.5,446.2 522.5,443.8 522.5,423.8 492.5,420 465,412.5Z"/>
<path d="M1015,181.7C1017.8,176.9 1026.9,167.5 1033.3,161.7C1039.7,155.8 1046.7,150 1053.3,146.7C1060,143.3 1065.6,142.7 1073.3,141.7C1081.1,140.7 1090.6,140.4 1100,140.7C1109.4,140.9 1121.7,141.2 1130,143.3C1138.3,145.4 1144.2,149.2 1150,153.3C1155.8,157.5 1161.9,163.1 1165,168.3C1168.1,173.6 1169.2,179.7 1168.3,185C1167.5,190.3 1164.2,195.8 1160,200C1155.8,204.2 1150.6,207.8 1143.3,210C1136.1,212.2 1126.7,213.1 1116.7,213.3C1106.7,213.6 1093.9,212.5 1083.3,211.7C1072.8,210.8 1062.2,210.6 1053.3,208.3C1044.4,206.1 1036.1,201.4 1030,198.3C1023.9,195.3 1019.2,192.8 1016.7,190C1014.2,187.2 1012.2,186.4 1015,181.7Z"/>
<path d="M785,235 806.7,221.7 823.3,212.3 843.3,213.3 866.7,226.7 885,241.7 890.7,248.3 883.3,265 860,266.7 833.3,263.3 806.7,258.3 796.7,248.3Z"/>
<path d="M1000,375C1002.5,370.8 1008.3,369.4 1016.7,366.7C1025,363.9 1038.9,360.3 1050,358.3C1061.1,356.4 1075,354.7 1083.3,355C1091.7,355.3 1094.4,358.3 1100,360C1105.6,361.7 1112.5,362.8 1116.7,365C1120.8,367.2 1125.6,369.7 1125,373.3C1124.4,376.9 1118.6,382.8 1113.3,386.7C1108.1,390.6 1101.1,393.6 1093.3,396.7C1085.6,399.7 1077.2,401.9 1066.7,405C1056.1,408.1 1038.6,414.4 1030,415C1021.4,415.6 1019.7,412.2 1015,408.3C1010.3,404.4 1004.2,397.2 1001.7,391.7C999.2,386.1 997.5,379.2 1000,375Z"/>
<path d="M1171.2,494.5 1182.5,490.8 1191.2,494.5 1181.2,498Z"/>
<path stroke-dasharray="4 1.9" d="M1169.3,372.7 1176.7,371 1179.3,376.7 1175,382.3 1170,380Z"/>
<path d="M1314.3,110.7 1340,108.1 1378.6,111.8 1421.4,118.2 1464.3,125.3 1496.4,130 1528.6,133.2 1571.4,142.9 1618.5,155.7 1614.3,163.9 1603.5,163.4 1571.4,158.3 1550,159.1 1528.6,157.9 1507.1,154.6 1485.7,149.3 1464.3,142 1442.8,138.6 1421.4,135.4 1400,131.1 1367.8,125.7 1335.7,117.1Z"/>
<path d="M1633.3,178.3 1633.3,188.3 1653.3,205 1673.3,215 1700,231.7 1713.3,241.7 1733.3,255 1766.7,275 1800,295 1833.3,313.3 1860,321 1880,318.3 1900,308.3 1913.3,301.7 1850,261.7 1766.7,215 1716.7,195 1640,171.7Z"/>
<path d="M1676.7,203.3 1686.7,211.7 1706.7,225 1733.3,241.7 1753.3,256.7 1783.3,271.7 1816.7,286.7 1843.3,293.3 1873.3,288.3 1883.3,281.7 1846.7,260 1766.7,216.7 1716.7,196.7 1690,200Z"/>
<path d="M1748.3,226.7 1753.3,235 1766.7,245 1800,260 1820,266.7 1841.7,267.7 1850,261.7 1766.7,216.7 1760,223.3Z"/>
<path d="M1471.7,310 1480,295 1493.3,285 1510,281.7 1530,286.7 1550,298.3 1573.3,311.7 1593.3,321.7 1620,328.3 1640,338.3 1651.7,348.3 1656.7,363.3 1640,365 1613.3,365.7 1580,365 1533.3,364.3 1510,358.3 1490,346.7 1480,335 1475,321.7Z"/>
<path stroke-dasharray="4 1.9" d="M1446.7,408.3 1451.7,388.3 1455,371.7 1473.3,376.7 1496.7,388.3 1520,398.3 1526.7,421.7 1543.3,428.3 1556.7,433.3 1586.7,430 1606.7,433.3 1616.7,425 1633.3,413.3 1653.3,406.7 1676.7,405 1686.7,408.3 1688.3,421.7 1683.3,438.3 1666.7,448.3 1656.7,458.3 1646.7,463.3 1630,461.7 1606.7,455 1590,451.7 1566.7,446.7 1533.3,445 1526.7,435 1510,428.3 1490,433.3 1460,425Z"/>
<path stroke-dasharray="4 1.9" d="M1930,341.7 1935,336.7 1966.7,341.7 1993.3,381.7 1963.3,375 1943.3,368.3 1930,356.7Z"/>
<path stroke-dasharray="4 1.9" d="M1755,419.3 1762.3,426 1749.3,426Z"/>
<path stroke-dasharray="4 1.9" d="M375,738.3 386.7,718.3 416.7,705 443.3,693.3 466.7,691.7 493.3,700 520,713.3 546.7,723.3 573.3,738.3 600,750 626.7,768.3 660,785 668.3,801.7 671.7,816.7 653.3,835 652.3,853.3 653.3,873.3 653.3,903.3 646.7,913.3 626.7,915 593.3,910 563.3,906.7 546.7,901.7 533.3,876.7 520,850 500,826.7 476.7,806.7 446.7,793.3 413.3,780 390,765 380,753.3Z"/>
<path stroke-dasharray="4 1.9" d="M481.7,756.7 493.3,755 510,758.3 526.7,773.3 541.7,785 566.7,781.7 593.3,781.7 613.3,788.3 621.7,805 610,815 593.3,817.7 576.7,811.7 560,798.3 540,791.7 516.7,788.3 496.7,780 482.3,771.7Z"/>
<path d="M121.7,788.3 126.7,778.3 143.3,779.3 156.7,782.7 173.3,791.7 200,805 216.7,811.7 236.7,818.3 263.3,818.3 286.7,813.3 313.3,801.7 328.3,799.3 343.3,800.7 366.7,810 396.7,822.7 420,838.3 446.7,853.3 463.3,871.7 459.3,886.7 466.7,903.3 470.7,918.3 493.3,933.3 520,945 550,956.7 583.3,970 616.7,983.3 650,993.3 683.3,1000.7 711.7,999.7 709.3,985.7 702.3,974.3 716.1,958.4 732.3,952.6 750.7,949.1 743.8,944.5 736.9,933 730,921.5 718.4,907.6 709.2,889.2 697.7,866.1 686.1,838.4 679.2,803.8 675.8,778.4 681.5,760 700,742.7 716.1,724.2 732.3,717.3 741.5,716.1 753,720.8 769.2,734.6 783,750.7 792.2,766.9 794.6,778.4 792.2,790 801.5,792.3 815.3,801.5 829.2,820 843,838.4 854.5,859.2 861.5,879.9 868.4,900.7 871.8,916.8 884.5,926.1 900,935.3 913.3,941.7 940,948.3 960,948.3 983.3,943.3 993.3,935 1020,926.7 1046.7,913.3 1066.7,901.7 1086.7,891.7 1103.3,888.3 1130,893.3 1166.7,898.3 1200,901.7 1233.3,906.7 1273.3,916.7 1293.3,926.7 1310,933.3 1326.7,945 1330,951.7 1320,963.3 1296.7,970 1273.3,980 1263.3,988.3 1271.2,989.5 1292.5,992 1312.5,988.8 1325,980 1342.5,971.2 1365,967.5 1387.5,964.5 1437.5,960 1462.5,961.2 1487.5,962.5 1512.5,966.2 1532.5,970 1547.5,973.8 1552.5,978.8 1548.8,990 1550,1002.5 1562.5,1010 1575,1015 1595,1013.8 1625,1008.8 1656.2,1003.2 1690,1015 1500,1125 1050,1135 600,1105 415,1015 405,988.3 400,978.3 406.7,973.3 393.3,965 366.7,950 333.3,933.3 300,913.3 260,888.3 216.7,856.7 180,840 153.3,823.3 130,806.7Z"/>
<path d="M730,916.8 746.1,915 748.4,919.1 741.5,924.2 731.1,923.3Z"/>
<path d="M719.6,790 730,779.6 739.2,775 741.5,779.6 760,781.9 780.7,788.8 779.6,808.4 787.6,820 801.5,836.1 810.7,849.9 816.5,861.5 817.2,871.9 811.9,885.7 801.5,889.2 783,885.7 766.9,882.2 753,875.3 748.4,869.6 745,856.9 734.6,849.9 725.4,836.1 719.6,820 718.4,803.8Z"/>
<path d="M495,1001.7 506.7,999.3 530,998.3 540,1000.7 530,985 540,981.7 553.3,980.7 573.3,986.7 600,993.3 633.3,1003.3 666.7,1011.7 700,1028.8 715,1030.5 732.5,1029.5 762.5,1031.2 787.5,1033.8 807.5,1031.2 825,1028.8 837.5,1029.5 838.8,1020 845,1010 862.5,1010 890,1008.8 930,1002.5 931.2,995 950,992.5 970,985 995,975 1017.5,965 1035,955 1053.3,945 1073.3,933.3 1100,923.3 1130,919.3 1166.7,918.3 1200,923.3 1226.7,931.7 1246.7,940 1255,948.3 1246.7,960 1220,970 1193.3,983.3 1178.3,991.7 1175,1001.7 1190,1010 1213.3,1016.7 1233.3,1020 1240,1022.5 1260,1015.5 1287.5,1008.8 1312.5,1002.5 1337.5,996.2 1362.5,991.2 1385,988 1400,987.5 1415,990 1437.5,989.5 1460,990 1472.5,995 1476.2,1002.5 1481.2,1006.2 1470,1013.8 1460,1020 1462.5,1025 1485,1016.2 1493.8,1011.2 1487.5,1017.5 1507.5,1017.5 1502.5,1022.5 1515,1027.5 1512.5,1033.8 1521.2,1037.5 1520,1033.8 1550,1030 1575,1026.2 1597.5,1024.2 1625,1032 1400,1125 1050,1135 700,1115 475,1030 500,1020 496.7,1010Z"/>
<path d="M1151.7,960 1161.7,948.3 1183.3,946.7 1171.7,961.7Z"/>
<path d="M583.3,1018.3 603.3,1011.7 633.3,1018.3 666.7,1028.3 700,1042.5 725,1046.2 750,1050 775,1052.5 807.5,1056.2 825,1050 850,1046.2 872.5,1032.5 890,1030 912.5,1031.2 940,1032.5 957.5,1027.5 975,1017.5 995,1006.2 1015,997.5 1035,992.5 1050,990 1062.5,987.5 1070,977.5 1080,971.2 1092.5,967.5 1107.5,971.2 1113.8,975 1110,982.5 1097.5,991.2 1090,1007.5 1080,1025 1072.5,1035 1070,1038.8 1090,1042.5 1110,1046.2 1125,1050 1162.5,1045 1187.5,1036.2 1212.5,1028.8 1237.5,1032.5 1262.5,1030 1287.5,1022.5 1330,1017.5 1360,1013.8 1382.5,1010 1395,1008.8 1387.5,1017.5 1410,1013.8 1421.2,1011.2 1415,1018.8 1422.5,1023.8 1417.5,1030 1407.5,1041.2 1437.5,1038.8 1465,1037.5 1477.5,1042.5 1520,1043.8 1535,1043 1565,1052 1400,1125 1050,1135 700,1120 545,1052 563.3,1042.3 556.7,1038.3 563.3,1033.3 586.7,1035 605,1036.7 596.7,1028.3Z"/>
<path d="M722.5,1048.8 750,1051.2 787.5,1050 812.5,1060 840,1072.5 812.5,1070 775,1062.5 737.5,1055Z"/>
<path d="M860,1065 862.5,1058.8 875,1055 895,1046.2 915,1043.8 940,1043.8 960,1041.2 975,1035 987.5,1031.2 1002.5,1030.5 1015,1037.5 1022.5,1040 1055,1057.5 1060,1062.5 1062.5,1072.5 1082.5,1081.8 1082.5,1092.5 880,1092.5 870,1075Z"/>
<path d="M628.3,1056.7 640,1053.3 666.7,1056.7 700,1061.2 725,1063.8 745,1067.5 775,1072.5 805,1075 830,1078.8 845,1083.8 850,1105 615,1078Z"/>
<path d="M1197.5,1063.8 1225,1043.8 1240,1042.5 1257.5,1036.2 1287.5,1030 1325,1026.2 1357.5,1027.5 1360,1032.5 1355,1040 1347.5,1045 1350,1052.5 1357.5,1056.2 1387.5,1055 1420,1050 1432.5,1048.8 1450,1055 1465,1059.5 1425,1061.2 1400,1067.5 1375,1075 1325,1086.2 1225,1097.5 1197.5,1090Z"/>
<path d="M1256.2,1065 1270,1057.5 1292.5,1053.8 1293.8,1057.5 1280,1062.5 1260,1066.2Z"/>
<path d="M890,1070 900,1062.5 925,1061.2 950,1057.5 987.5,1067.5 1007.5,1063.8 1022.5,1067.5 1032.5,1075 1037.5,1082.5 1037.5,1092.5 900,1092.5 892.5,1075Z"/>
<path d="M1225,1050 1240,1048.8 1252.5,1052.5 1240,1060 1225,1062.5 1210,1056.2Z"/>
<path d="M1225,1076.2 1262.5,1071.2 1300,1067.5 1330,1072.5 1355,1071.2 1337.5,1077.5 1312.5,1082.5 1225,1092.5Z"/>
<path stroke-dasharray="4 1.9" d="M836.7,738.3 856.7,735 890,733.3 906.7,739.3 896.7,750 880,755 881.7,758.3 900,761.7 933.3,768.3 963.3,768.3 986.7,760 1013.3,758.3 1046.7,753.3 1080,741.7 1111.7,736.7 1120,743.3 1130,751.7 1150,755 1183.3,751.7 1220,746.7 1233.3,744.3 1247,736.7 1275.3,735 1292,726.7 1305.3,722.7 1318.7,725 1330.3,733.3 1350.3,734.3 1363.7,736 1368,740 1368.3,756.7 1361.7,780 1350,800 1340,821.7 1348.3,836.7 1353.3,846.7 1373.3,850 1386.7,855 1381.7,870 1360,878.3 1333.3,886 1310,881.7 1263.3,887.3 1233.3,885 1200,880 1166.7,870 1133.3,861.7 1100,858.3 1073.3,862.7 1053.3,873.3 1033.3,886.7 1000,896.7 966.7,906.7 953.3,906.7 933.3,898.3 920,883.3 903.3,866.7 886.7,843.3 870,825 860,803.3 854,773.3 855,753.3 838.3,745Z"/>
<path stroke-dasharray="4 1.9" d="M947.3,838.3C946.2,833.6 952.3,830 956.7,826.7C961,823.3 967.2,820 973.3,818.3C979.4,816.7 986.7,815.8 993.3,816.7C1000,817.5 1008.1,820 1013.3,823.3C1018.6,826.7 1023.9,831.9 1025,836.7C1026.1,841.4 1023.6,847.8 1020,851.7C1016.4,855.6 1009.4,858.3 1003.3,860C997.2,861.7 990,862.5 983.3,861.7C976.7,860.8 969.3,858.9 963.3,855C957.3,851.1 948.4,843.1 947.3,838.3Z"/>
<path stroke-dasharray="4 1.9" d="M1136.7,806.7 1143.3,793.3 1166.7,785 1193.3,780 1215,778.3 1230,796.7 1260,793.3 1280,787.7 1293.3,791.7 1291.7,820 1283.3,840 1263.3,855 1233.3,859.3 1200,856.7 1173.3,843.3 1150,831.7 1138.3,821.7Z"/>
<path stroke-dasharray="4 1.9" d="M1463.3,823.3 1476.7,793.3 1496.7,776.7 1513.3,768.3 1525,776.7 1526.7,793.3 1513.3,813.3 1496.7,831.7 1468.3,839.3 1465,833.3Z"/>
<path stroke-dasharray="4 1.9" d="M1676.7,756.7 1716.7,750 1750,743.3 1766.7,740 1783.3,745 1789.3,753.3 1780,770 1763.3,790 1746.7,806.7 1733.3,820 1720,833.3 1713.3,840 1715,848.3 1726.7,854 1746.7,851.7 1766.7,849.3 1790,850 1813.3,858.3 1833.3,862.7 1860,860 1893.3,853.3 1920,847.3 1933.3,848.3 1960,853.3 1906.7,903.3 1863.3,926.7 1846.7,911.7 1833.3,916.7 1800,933.3 1766.7,940 1733.3,945 1710,946.7 1698.3,941.7 1695,933.3 1640,932.7 1613.3,936 1583.3,937.7 1550,936.7 1526.7,933.3 1506.7,933.3 1496.7,923.3 1495,916.7 1506.7,900 1520,880 1533.3,860 1546.7,848.3 1573.3,843.3 1610,840 1626.7,830 1643.3,813.3 1656.7,790 1666.7,770Z"/>
<path stroke-dasharray="4 1.9" d="M1673.3,803.3 1681.7,790 1700,783.3 1718.3,781 1726.7,790 1710,800 1688.3,810Z"/>
<path d="M1806,806.7 1808.3,791.7 1825,756.7 1863.3,739.3 1871.7,746.7 1876.7,760.7 1906.7,765 1936.7,772.3 1944,783.3 1941.7,793.3 1930,806.7 1913.3,816.7 1893.3,826.7 1870,829.3 1833.3,821.7 1830,810Z"/>
<path stroke-dasharray="4 1.9" d="M535,600 547.5,597 570,597.5 586.2,598 588,607.5 575,603.8 555,605 540,603Z"/>
<path stroke-dasharray="4 1.9" d="M687.5,635 701.2,629.2 716.2,635 702.5,641.2Z"/>
<path stroke-dasharray="4 1.9" d="M1750,425 1755,418.8 1762.5,425Z"/>
<path stroke-dasharray="4 1.9" d="M363.3,511.7 383.3,495 398.3,494.3 380,512.7Z"/>
<path stroke-dasharray="4 1.9" d="M1316.7,95 1333.3,103 1353.3,104.7 1386.7,107.3 1400,109.3 1433.3,115.7 1466.7,121.7 1466.7,95Z"/>
</g>
</g>
<g fill="none" stroke="#000" stroke-width="1.3" stroke-linejoin="round">
<path d="M615.5,143 600,144.5 575,150 550,155.5 536.2,160 530,165 517.5,168 507.5,173.8 496.2,175.5 500,169.5 482.5,168 475,171.5 465.5,169.5 460,173 467.5,176.5 453.8,180 447,177.5 451.8,183.8 453.2,188.2 461.2,188.8 468.8,193.8 460,197.5 450,201.2 440,200 447.5,204.5 457.5,205.5 445,211.2 425,217.5 400,226.2"/>
<path d="M400,228 425,220 450,210.5 462.5,208 452.5,215 461.2,213.8 482.5,203.8 506.2,193.8 486.2,203 510,195 517.5,196.2 525,202.5 530,207.5 536.2,203.8 532.5,200 546.2,201.2 540,212.5 536.2,220 528.8,227 523.8,229 517.5,235 511.2,239.5 512.5,245 507.5,252.5 510,262.5 506.2,268.8 503.8,273.8"/>
<path d="M496.2,256.2 500,252.5 506.2,253.8 510,262.5 507.5,267.5 501.2,265 497.5,261.2 496.2,256.2"/>
<path d="M500,240 503.8,235 510,233 505,237.5 501.2,243.8 500,240"/>
<path d="M536.2,196.2 636.2,150"/>
<path d="M503.8,273.8 495,282.5 482.5,295 470,305 461.2,310 451.2,315 446.2,330 443.8,342.5 441.2,355 450,361.2 448.8,365 446.5,372.5 447.5,380"/>
<path d="M453.8,380 457,371.2 461.2,367 462.5,373.8 461.2,380"/>
<path d="M510,262.5 635,262.5 636.2,260 637.5,263.8 647.5,267.5 660,268 667.5,276.2 671.2,282.5 668.8,290 662.5,300 656.2,307 665,305 677.5,297.5 690,295.5 700,290 715,287.5 725,280 732.5,276.2"/>
<path d="M692.5,213.8 696.2,205.5 712.5,195 732.5,185 750,177 770,168 775,166.2 776.2,172.5 772.5,178 765.5,190 756.2,206.2 750,217.5 735,227.5 725,235 717.5,227 706.2,226.2 703.8,217.5 692.5,213.8"/>
<path d="M756.2,184.5 761.2,183 762.5,185.5 757.5,187 756.2,184.5"/>
<path d="M764.5,188 768.8,187 770,189.5 765.5,190.5 764.5,188"/>
<path d="M775,166.2 782.5,175 790,187.5 790.5,200 794.5,208.8 800,207.5 810,200 812.5,210 812,220 807.5,221.2 816.2,228.8 819.5,240 815,247.5 802.5,250 790,262.5 786.2,270.5"/>
<path d="M786.2,270.5 797.5,269.5 800,275 806.2,272.5 810,277 815,275.5 816.2,262.5 810,260 803,250.5"/>
<path d="M732.5,276.2 735,271.2 750,265 760,260 770,256.2 780,255.5 775,262.5 767.5,265 760,270 762.5,277.5 770,280.5 776.2,276.2 777,281.2 767.5,284.5 760,282.5 750,287.5 745.5,295 742,292 735,290 725,297.5"/>
<path d="M758.8,275 761.2,270 775,262.5 780,260 770,267.5 762.5,276.2 758.8,275"/>
<path d="M448.8,365 462.5,366.2 475,373.8 491.2,373.8 492.5,371.2 501.2,372.5 503.8,380 507.5,388.8 517.5,385 522.5,393.8 523.8,407.5 530,411.2"/>
<path d="M530,411.2 535,400 547.5,390 560,385 572.5,388.8 582.5,383.8 585,381.2 600,381.2 605,385 612.5,383.8 613.8,387.5"/>
<path d="M625.5,385 625,390 627.5,377.5 635,367.5 647.5,357.5 662.5,350 671.2,340 672.5,333.8 677.5,325 675,331.2 682.5,323.8 690,315 700,312.5 715,307.5 716.2,303.8 725,297.5"/>
<path d="M700,153.4 706.7,158.5 716.7,159.3 730.1,156.8 733.4,159.3 743.4,160.1 748.4,163.5 755.1,158.5 763.4,161.8 771.8,167.6"/>
<path d="M771.8,167.6 773.5,178.5 791.8,188.5 795.2,193.5 790.2,205.2 791.8,209.4 803.5,201.9 811.9,198.5 811,211.9 809.3,218.6 806.8,220.2 815.2,226.9 817.7,235.3 818.9,243.6 815.2,247.8 808.5,249.4 802.2,251.9"/>
<path d="M755.1,183.5 760.9,181.5 762.6,183.5 756.8,186 755.1,183.5"/>
<path d="M764.3,187.7 769.3,186 770.1,188.5 765.4,190.5 764.3,187.7"/>
<path d="M776,167.6 786.8,163.5 796,156.8 801.8,150.9 808.5,150.1 823.5,151.8 825.5,158.5 833.6,163.5 843.6,162.1 851.1,165.1 846.9,168.5 838.6,172.1 835.6,168.5 830.6,170.1 828.9,178.5 823.9,185.2 817.2,183.5 815.5,188.8 807.2,186.8 802.2,180.5 799.8,175.2 788.5,176.8 795.5,173.1 806.8,171.5 793.5,169.3 783.5,170.5 776,167.6"/>
<path d="M768,121.6 776.7,119.1 789,116.7 799,114.8 796.5,117.9 789,120.4 792.8,121.6 801.4,119.8 806.4,118.5 803.9,121.6 795.2,124.1 784.1,125.3 774.2,125.3 769.2,124.1 768,121.6"/>
<path d="M808.9,115.4 818.8,112.3 827.4,110.5 826.2,112.3 816.3,114.8 810.1,116.3 808.9,115.4"/>
<path d="M834.9,111.7 842.3,109.9 851,110.5 854.7,112.3 848.5,114.8 843.5,113.6 838.6,113.6 834.9,111.7"/>
<path d="M860.9,111.1 869.5,107.4 879.4,104.9 890.6,102.4 900.5,101.8 903,104.3 893,106.1 883.1,108.6 873.2,111.7 867,113.6 860.9,111.1"/>
<path d="M849.7,119.8 860.9,117.3 872,114.8 883.1,112.3 893,109.9 903,108.6 906.7,110.5 899.2,112.3 888.1,114.8 879.4,117.9 869.5,119.8 858.4,121.6 851,121.6 849.7,119.8"/>
<path d="M893,117.9 900.5,116.7 907.9,117.9 905.4,120.4 895.5,120.4 893,117.9"/>
<path d="M806.4,124.1 815,121.6 823.7,119.8 829.9,119.1 827.4,121.6 818.8,124.1 811.3,126 806.4,124.1"/>
<path d="M832.4,121.6 839.8,119.1 842.3,121.6 851,124.1 858.4,124.7 854.7,127.2 846,127.8 838.6,126 833.6,124.7 832.4,121.6"/>
<path d="M714.8,138.3 722.2,134.6 732.1,130.9 742,128.4 751.9,129.7 748.2,132.1 739.5,134.6 729.6,137.7 721,140.2 714.8,138.3"/>
<path d="M704.9,142 712.3,140.2 722.2,142 727.1,144.5 719.7,145.8 709.8,144.5 704.9,142"/>
<path d="M749.4,133.4 756.9,131.5 764.3,132.1 759.3,134.6 751.9,135.9 749.4,133.4"/>
<path d="M756.9,142 764.3,138.3 774.2,134.6 784.1,132.1 792.8,131.5 789,134.6 781.6,137.1 776.7,140.8 769.2,143.3 761.8,144.5 756.9,142"/>
<path d="M776.7,142 784.1,138.3 792.8,134.6 801.4,132.1 808.9,131.5 805.1,134.6 796.5,137.7 789,140.8 781.6,143.9 776.7,142"/>
<path d="M799,138.3 807.6,134.6 816.3,132.1 826.2,131.5 823.7,134.6 813.8,137.7 806.4,140.8 801.4,142.7 799,138.3"/>
<path d="M826.2,134.6 833.6,132.1 842.3,131.5 849.7,132.1 846,135.9 838.6,137.7 831.1,137.7 826.2,134.6"/>
<path d="M898,132.1 905.4,129.7 912.9,130.9 914.7,134.6 911.6,137.7 907.9,137.1 911.6,134 906.7,132.1 900.5,133.4"/>
<path d="M890.6,149.5 898,145.8 904.2,144.5 900.5,148.2 894.3,151.3 890.6,149.5"/>
<path d="M695,158.1 702.4,159.4 712.3,160.6 717.2,156.9 709.8,156.9 702.4,156.3 696.2,156.9 695,158.1"/>
<path d="M732.1,156.9 742,153.2 751.9,150.7 754.4,153.2 745.7,156.3 737,158.8 732.1,156.9"/>
<path d="M808.9,161.9 813.8,158.8 819.4,157.5 818.8,160 813.8,162.5 808.9,161.9"/>
<path d="M776.7,155.7 784.1,150.7 787.8,151.3 784.1,155.7 779.1,159.4 776.7,155.7"/>
<path d="M754.4,186.6 759.3,184.4 763,185.1 759.3,187.6 754.4,186.6"/>
<path d="M764.3,189.1 768,187.2 770.5,188.1 767.4,190.3 764.3,189.1"/>
<path d="M885.3,199.4 883.6,195.2 874.5,193.5 873.6,186.8 877,171.8 879.5,165.1 890.3,155.1 897.8,150.1 903.7,141.8 907.8,133.4 908.7,123.4 905.7,118.4 917,115.9 910.4,108.4 900.3,100.9 920.4,97.5 933.7,98.4 955.4,95.9 975.5,97.5 1000.5,93.3 1017.2,97.5 1028.9,100.9 1012.2,105 1007.2,115.1 1000.5,118.4 1004.2,123.7 995.5,126.7 997.2,133.4 988.8,135.1 987.5,141.8 975.5,146.8 983.8,148.1 975.5,151.8 960.4,156.8 950.4,160.1 933.7,166.8 922,171.8 910.4,180.2 900.3,188.5 890.3,199.4 885.3,199.4"/>
<path d="M971.3,171.8 977.1,167.6 987.1,168.5 993.8,166 1002.2,166.8 1004.7,171.8 998.8,176.8 988.8,180.2 983.8,181 973.8,178.5 977.1,175.2 970.5,174.3 971.3,171.8"/>
<path d="M802.2,251.9 806.8,258.6 815.2,262 815.5,270.3 810.2,277 806.8,275.3 800.2,273.6 786.8,269.5 790.2,265.3 801.8,262 800.2,257 802.2,251.9"/>
<path d="M461.2,380 463.8,395 467.5,412.5 473.8,427.5 476.2,440 471.2,448.8 473.8,457.5 483.8,465 497.5,473.8 512.5,481.2 525,478.8 532.5,486.2 540,493.8 550,497.5 558.8,500 566.2,513.8 567.5,522.5 576.2,525 580,532.5 590,536.2 592,540 595.5,535 605,530 608,538 610,533.8 610.5,550 609.5,565 602.5,573.8 600,581.2 593.8,586.2 591.2,597.5 588.8,607.5 592.5,611.2 590,617.5 587,625 590,632.5 595,640 605,655 615,672.5 622.5,687.5 630,697.5 642.5,705"/>
<path d="M441.2,398.8 445,390 447.5,380"/>
<path d="M441.2,398.8 447.5,405 451.2,417.5 453.8,431.2 457.5,428.8 455,415 453.8,400 455,387.5 453.8,380"/>
<path d="M612.5,386.2 615,400 616.2,415 620,416.2 623.8,410 626.2,395 627.5,380"/>
<path d="M523.8,402.5 530,410 535,402.5 550,388.8"/>
<path d="M530,410 523.8,422.5 518.8,437.5 520,450 526.2,460 532.5,463.8 545,461.2 552.5,455 557.5,446.2 570,442.5 575,441.2 572.5,448.8 566.2,460 560,472.5 557.5,480 555,485 570,480 580,481.2 585,486.2 580,497.5 577.5,515 581.2,523.8 590,530 600,527.5 602.5,525 610,530 613.8,530 622.5,522.5 627.5,515 637.5,510 647.5,503.8 650,506.2 645,512.5 642.5,520 645,526.2 647.5,520 646.2,511.2 656.2,506.2 657.5,510 665,516.2 677.5,517.5 687.5,516.2 706.2,515 706.2,520 697.5,518.8 706.2,523.8 710,531.2 717.5,540 725,550 737.5,548.8 747.5,552.5 756.2,561.2 761.2,572.5 765,580 762.5,590 772.5,592.5 773.8,599.5 777.5,595 795,605 797.5,609.5 800,607.5 820,611.2 832.5,620 842.5,627.5 850,627.5 853,642.5 850,655 842.5,667.5 835,682.5 832.5,705"/>
<path d="M587.5,438.8 595,432.5 605,430 616.2,431.2 625,436.2 630,441.2 637.5,446.2 642.5,450 637.5,452.5 625,452.5 622.5,446.2 615,440 605,436.2 595,436.2 590,439.5 587.5,438.8"/>
<path d="M647.5,453.8 655,452.5 665,453.8 671.2,458.8 672.5,462.5 662.5,463.8 655,467.5 651.2,462.5 640,462.5 641.2,461.2 650,460 647.5,453.8"/>
<path d="M617.5,463.8 622.5,462 628.8,463.8 626.2,467 620,467 617.5,463.8"/>
<path d="M678.8,462.5 687.5,462 688,465 679.5,465.5 678.8,462.5"/>
<path d="M630,405 638.8,404.5 636.2,410 637.5,406.2"/>
<path d="M630,416.2 632,417.5 631.2,426.2 629.2,425 630,416.2"/>
<path d="M532.5,486.2 536.2,478.8 542.5,478.8 547.5,466.2 555,466.2 556.2,480"/>
<path d="M542.5,478.8 547.5,487.5 552.5,491.2 555,485"/>
<path d="M550,497.5 553.8,492.5 560,490 570,480.5"/>
<path d="M558.8,500 565,492.5 585,486.2"/>
<path d="M566.2,513.8 577.5,515"/>
<path d="M580,523.8 581.2,532.5"/>
<path d="M646.2,511.2 637.5,520 636.2,527.5 641.2,540 652.5,542.5 655,547.5 666.2,548.8 665,565 666.2,577.5"/>
<path d="M600,581.2 615,588.8 621.2,592.5 620,600 610,610 602.5,616.2 600,625 592.5,621.2 590,617.5"/>
<path d="M621.2,592.5 632.5,606.2 645,607.5 650,611.2 652.5,621.2"/>
<path d="M666.2,577.5 652.5,580 651.2,587.5 653.8,597.5 652.5,621.2"/>
<path d="M666.2,577.5 672.5,585.5 685,581.2 682.5,572.5 682.5,563.8 695,561.2 705,557.5 702.5,550 707.5,540 710,531.2"/>
<path d="M707.5,540 708.8,555 707.5,567.5 710,577.5 715,581.2 727.5,576.2 730,573.8 742.5,575 747.5,573.8 752.5,565 756.2,561.2"/>
<path d="M725,550 720,560 725,576.2"/>
<path d="M742.5,551.2 740,562.5 742.5,575"/>
<path d="M652.5,621.2 641.2,623.8 635,630 633.8,640 630,643.8 635,650 637.5,657.5 645,662.5 651.2,658.8 652.5,668.8 658.8,668.8 670,661.2 680,660 682.5,672.5 692.5,680 707.5,686.2 712.5,695 715,705"/>
<path d="M658.8,668.8 663.8,680 663.8,695 666.2,705"/>
<path d="M622.5,690 640,702.5 655,715 662.5,718.8 667.5,740 671.2,765 675,787.5 680,807.5 685,830 688.8,850 695,865 702.5,882.5 705.5,885.5 707.5,897.5 715,907.5 720,915 730,925 740,940 747.5,947.5 760,949.5 757.5,942.5 762.5,939.2"/>
<path d="M686.2,830 690,850 700,880 703.8,883.8 700,865 693,845 688,830"/>
<path d="M706.2,890 712.5,905.5 716.2,905 710,890 706.2,890"/>
<path d="M763.8,940 773.8,948.8 787,953 785,955.5 776.2,957.5 767.5,950 760,941.2 763.8,940"/>
<path d="M832.5,690 833.8,705 831.2,727.5 826.2,742.5 822.5,750 810,752.5 797.5,760 791.2,770 795,777.5 793.8,790 788.8,802.5 781.2,815 780,820 776.2,828.8 767.5,831.2 760,828.8 766.2,840 767,850 760,855 747.5,856.2 750,868.8 740,870 747.5,877.5 746.2,887.5 743.8,895 747.5,905 755,910 753.8,920 756.2,930 760,937.5 762.5,939.2"/>
<path d="M792.5,936.2 797.5,932.5 805,934.5 802.5,937.5 797.5,939.5 792.5,936.2"/>
<path d="M687.5,750 682.5,760 686.2,775 683.8,790 690,807.5 695,825 697.5,840 703.8,855 702.5,862.5 712.5,880 715,890 725,902.5 727.5,915 737.5,930 747.5,937.5 757.5,940.5"/>
<path d="M662.5,718.8 665,705 662.5,690"/>
<path d="M662.5,718.8 672.5,727.5 676.2,740 687.5,750 688.8,743.8 700,745.5 710,730 720,727.5 732.5,731.2 731.2,717.5 726.2,715 726.2,705 717.5,705 712.5,690"/>
<path d="M732.5,731.2 735,743.8 745,747.5 751.2,757.5 757.5,758.8 758.8,772.5 763.8,775 762.5,781.2 755,786.2 740,777.5 741.2,766.2 730,757.5 715,747.5 710,745 702.5,748.8 700,745.5"/>
<path d="M762.5,781.2 755,790 751.2,800 752.5,826.2 760,828.8"/>
<path d="M751.2,800 760,785 780,790 783.8,807.5 781.2,815"/>
<path d="M1027.5,210 1033.8,207.5 1042.5,211.2 1037.5,220 1041.2,225 1045,230 1052.5,240 1057,243.8 1053.8,248.8 1040,252.5 1027.5,256.2 1037.5,247.5 1030,243.8 1035,237.5 1030,232.5 1036.2,227.5 1032.5,220 1027.5,216.2 1027.5,210"/>
<path d="M1010,237.5 1017.5,230 1025,228.8 1026.2,237.5 1022.5,245 1012.5,247.5 1008.8,243.8 1010,237.5"/>
<path d="M1087.5,215 1082.5,220 1083.8,230 1080,236.2 1075,237.5 1067.5,242.5 1065,248.8 1057.5,250 1050,256.2 1042.5,260 1030,265 1040,270 1045,280 1042.5,295 1040,298.8 1007.5,296.2 1006.2,310 1007.5,320 1005,332.5 1015,337.5 1020,345 1025,340 1040,337.5 1050,325 1052.5,315 1062.5,305 1065,300 1080,295 1087.5,290 1095,292.5 1102.5,302.5 1112.5,312.5 1122.5,320 1130,327.5 1127.5,333.8 1133,325.5 1137.5,317.5 1130,312.5 1120,302.5 1112.5,292.5 1107.5,285 1115,282.5 1120,290 1130,300 1140,307.5 1147.5,315 1152.5,325 1160,335 1165,341.2 1162.5,330 1167.5,327.5 1160,317.5 1170,312.5 1177.5,317.5 1180,327.5 1187.5,337.5 1200,342.5 1202.5,340"/>
<path d="M1112.5,332.5 1125,330 1126.2,335 1120,340 1113.8,337.5 1112.5,332.5"/>
<path d="M1090,312.5 1095,311.2 1095.5,322.5 1091.2,323.8 1090,312.5"/>
<path d="M1091.2,301.2 1094.5,300 1093.8,308.8 1090.8,307.5 1091.2,301.2"/>
<path d="M1087.5,215 1072.5,207.5 1067.5,192.5 1080,180 1090,170 1100,157.5 1115,150 1130,145 1140,146.2 1155,152.5 1165,157.5 1180,162.5 1175,168.8 1160,167.5 1165,172.5 1177.5,173.8 1180,178.8 1170,180 1173.8,173.8 1182,169.9"/>
<path d="M1087.5,215 1090,205 1095,195 1112.5,185 1117.5,175 1125,167.5 1130,170 1125,185 1130,195 1140,200 1155,197.5 1157.5,202.5 1145,205 1140,212.5 1135,220 1140,225 1155,222.5 1150,230 1135,230 1115,231.2 1102.5,233.8 1090,230 1083.8,230"/>
<path d="M1082.5,230 1083.8,220 1090,216.2 1093.8,222.5 1100,227.5 1092.5,230 1082.5,230"/>
<path d="M1007.5,310 1017.5,306.2 1015,320 1013.8,333.8"/>
<path d="M1040,298.8 1062.5,305"/>
<path d="M1057.5,250 1065,255 1076.2,258.8 1083.8,267.5 1080,275 1082.5,282.5 1080,295"/>
<path d="M1076.2,258.8 1077.5,237.5 1080,236.2"/>
<path d="M1110,232.5 1112.5,250 1102.5,256.2 1110,265 1100,267.5 1083.8,267.5"/>
<path d="M1083.8,267.5 1090,272.5 1100,270 1112.5,272.5 1115,280"/>
<path d="M1080,275 1090,280 1105,277.5 1115,280 1112.5,282.5 1107.5,285"/>
<path d="M1145,233.8 1152.5,250 1148.8,260 1130,262.5 1112.5,250"/>
<path d="M1102.5,256.2 1115,260 1130,262.5"/>
<path d="M1110,265 1125,267.5 1145,270 1147.5,260"/>
<path d="M1125,267.5 1120,280 1115,280"/>
<path d="M1145,270 1165,267.5 1180,280 1182.5,295 1165,292.5 1157.5,300 1147.5,290 1137.5,282.5 1120,280"/>
<path d="M1148.8,260 1165,267.5"/>
<path d="M1120,290 1130,285 1137.5,282.5"/>
<path d="M1140,307.5 1145,300 1157.5,300 1160,310 1152.5,317.5 1147.5,315"/>
<path d="M1160,310 1175,307.5 1182.5,295"/>
<path d="M1160,317.5 1175,315 1180,307.5 1175,307.5"/>
<path d="M1087.5,215 1095,202.5 1092.5,190 1102.5,177.5 1100,162.5 1115,155 1130,150 1140,146.2"/>
<path d="M1125,167.5 1122.5,157.5 1130,150"/>
<path d="M1140,146.2 1145,160 1152.5,175 1160,187.5 1155,197.5"/>
<path d="M1140,212.5 1160,215 1165,220 1155,222.5"/>
<path d="M1135,220 1152.5,220 1165,220 1175,230 1185,237.5 1180,242.5 1195,250 1210,256.2 1225,263.8 1222.5,272.5 1210,280 1200,280 1187.5,277.5 1180,280"/>
<path d="M1145,233.8 1160,232.5 1175,230"/>
<path d="M1152.5,250 1180,242.5"/>
<path d="M1182.5,295 1187.5,290 1185,282.5 1200,280 1205,285 1220,282.5 1225,275 1215,270 1222.5,267.5 1232,274.3"/>
<path d="M1232,306.2 1225,307.5 1205,306.2 1190,312.5 1180,310 1177.5,317.5"/>
<path d="M1202.5,340 1215,340 1230,337.5 1232,343.5"/>
<path d="M1310.7,237 1320,230 1330,227.5 1337.5,235 1352.5,232.5"/>
<path d="M1019.7,345.5 1020,345"/>
<path d="M1020,345 1028,345.5"/>
<path d="M1043.5,345.5 1057.5,342.5 1080,340 1095,337.5 1102.5,340 1100.7,345.5"/>
<path d="M956.7,445 960,455 958.8,473.8 962.5,476.2 952.5,487.5 956.2,495 956.2,505 966.2,512.5 975,527.5 985,542.5 996.2,553.8 1006.2,560.5 1017.5,556.2 1030,555 1038.8,557.5 1050,551.2 1065,547.5 1075,548.8 1080,556.2 1083.8,561.2 1097.5,558.2 1102.5,566.2 1105,575 1102.5,590 1100,598.8 1105,607.5 1112.5,617.5 1118.8,627.5 1120,633.8 1123.8,645 1122.5,655 1127.5,667.5 1126.2,677.5 1120,685 1116.2,697.5 1115,711.2 1117.5,722.5 1122.5,735 1127.5,745"/>
<path d="M1254.5,450 1255,452.5 1262.5,465 1270,473.8 1280,485 1288.8,495 1293.8,502.5 1286.2,506.2 1286.2,512.5 1292.5,512.5 1300,517.5 1315,513.8 1332.5,507.5 1338,507 1337.5,520 1333.8,537.5 1325,556.2 1312.5,572.5 1298.8,586.2 1287.5,600 1280,610 1275,622.5 1270.5,632.5 1272.5,645 1275,657.5 1278,666.2 1278.8,682.5 1276.2,695 1267.5,707.5 1255,717.5 1245,725 1240,735 1237.5,745"/>
<path d="M1270.9,450 1277.5,457.5 1283.8,468.8 1288.8,485 1291.2,495 1293.8,502 1305,500 1320,492.5 1340,480 1357.5,470 1367.5,462.5 1371.7,450"/>
<path d="M1336.2,457.5 1345,473.8"/>
<path d="M1288.8,468.8 1310,472.5 1315,465 1336.2,457.5 1352.5,452.5 1352.4,450"/>
<path d="M1326.2,675.5 1330,685 1331.2,697.5 1327.5,702.5 1322.5,720 1315,740 1312.5,745"/>
<path d="M1326.2,675.5 1322.5,687.5 1310,697.5 1297.5,705 1293.8,715 1295,727.5 1290,740 1287.5,745"/>
<path d="M1017.8,445 1020,480 1000,482.5 983.8,485.5"/>
<path d="M1056.1,445 1067.5,455 1072.5,457.5 1090,446.2 1091.7,445"/>
<path d="M1165.8,445 1180,452.5 1187.5,451.2 1187,445"/>
<path d="M962.5,476.2 972.5,476.2 980,485 983.8,485.5 982.5,502.5 956.2,503.8"/>
<path d="M956.2,496.2 971.2,495 956.2,498"/>
<path d="M956.2,505 972.5,503.8 971.2,510 966.2,512.5"/>
<path d="M972.5,503.8 985,505 990,507.5 998.8,505 1002.5,515 1000,522.5 996.2,537.5 990,531.2 986.2,542.5"/>
<path d="M975,527.5 980,521.2 987.5,521.2 990,531.2"/>
<path d="M1002.5,515 1005,520 1020,520 1022.5,507.5 1027.5,497.5 1040,487.5 1050,486.2 1070,482.5 1073.8,465 1072.5,457.5"/>
<path d="M1000,522.5 1002.5,537.5 1007.5,550 1006.2,560.5"/>
<path d="M1020,520 1033.8,522.5 1033.8,514.5 1050,513.8 1062.5,506.2 1056.2,497.5 1051.2,486.2"/>
<path d="M1033.8,522.5 1035,532.5 1032.5,547.5 1035,556.2"/>
<path d="M1051.2,513.8 1053.8,530 1055,548.8"/>
<path d="M1056.2,513.8 1060,530 1060,548"/>
<path d="M1062.5,506.2 1070,510 1071.2,520 1066.2,530 1066.2,547.5"/>
<path d="M1071.2,520 1072.5,500 1080,495 1092.5,500 1102.5,501.2 1120,497.5 1126.2,496.2 1132.5,507.5 1128.8,520 1123.8,530 1117.5,542.5 1107.5,542.5 1100,552.5 1097.5,558.2"/>
<path d="M1135.1,445 1136.2,447.5 1133.8,475 1126.2,487.5 1128.8,497.5 1133.8,506.2 1133.8,518.8 1130,521.2 1131.2,527.5 1137.5,537.5 1133.8,547.5 1132.5,556.2 1137.5,567.5 1141.2,578 1125,576.2 1105,575"/>
<path d="M1180,452.5 1182.5,481.2 1176.2,490 1175,502.5 1180,512.5 1182.5,520 1183.8,528.8 1187.5,530 1190,520 1195,518.8 1201.2,523.8 1212.5,525 1218.8,520 1225,522.5 1232.5,516.2 1231.2,507 1235,506.2 1236.2,517.5 1241.2,525 1238,536.2 1246.2,545 1250,553.8"/>
<path d="M1137.5,537.5 1150,535 1157.5,527.5 1170,522.5 1177.5,513.8 1180,512.5"/>
<path d="M1137.5,567.5 1146.2,565 1155,566.2 1160,556.2 1170,558.8 1177.5,562.5 1190,555 1205,554.5"/>
<path d="M1183.8,528.8 1192.5,540 1205,554.5 1212.5,560 1227.5,565 1245,561.2 1250,553.8 1260,561.2 1275,566.2 1285,562.5 1290,563.8 1300,556.2 1306.2,556.2 1325,535 1300,525 1292.5,516.2 1292.5,512.5"/>
<path d="M1241.2,525 1246.2,520 1248.8,505 1252.5,492.5 1255,470 1262.5,465"/>
<path d="M1255,470 1262.5,487.5 1275,490 1288.8,502.5"/>
<path d="M1285,563.8 1283.8,595 1287.5,600"/>
<path d="M1245,561.2 1250,577.5 1243.8,592.5 1243.8,597.5 1225,598.8 1220,592.5 1222.5,580 1226.2,575 1225,565"/>
<path d="M1243.8,597.5 1272.5,622.5 1275,622.5"/>
<path d="M1220,592.5 1217.5,605 1216.2,620 1217.5,630 1220,642.5 1223.8,648.8 1212.5,650 1211.2,665 1210,675 1212.5,683.8 1216.2,683.8 1216.2,676.2 1207.5,675 1202.5,670 1185,668.8 1183.8,681.2 1172.5,681.2 1172.5,702.5 1175,710 1180,717.5 1165,716.2 1150,711.2 1126.2,711.2 1115,711.2"/>
<path d="M1217.5,605 1223.8,603.8 1225,615 1218.8,620"/>
<path d="M1223.8,648.8 1237.5,656.2 1243.8,671.2 1260,670 1276.2,665"/>
<path d="M1237.5,656.2 1240,670 1236.2,688.8 1241.2,695 1243.8,707.5 1248.8,700 1248.8,690 1243.8,682.5 1243.8,671.2"/>
<path d="M1120,633.8 1142.5,632.5 1148.8,647 1160,645 1161.2,641.2 1172.5,642.5 1175,667.5 1185,668.8"/>
<path d="M1216.2,683.8 1232.5,688.8 1217.5,696.2 1220,701.2 1210,703.8 1200,716.2 1187.5,713.8 1180,717.5"/>
<path d="M1165,716.2 1163.8,745"/>
<path d="M1190,715 1200,735 1210,745"/>
<path d="M1220,701.2 1231.2,706.2 1232.5,720 1227.5,735 1217.5,745"/>
<path d="M1105,575 1113.8,575.5 1113.8,583.8 1103.8,583.8"/>
<path d="M1125,576.2 1130,582.5 1128.8,592.5 1132.5,600 1128.8,607.5 1122.5,605 1115,612.5 1117.5,617.5 1112.5,617.5"/>
<path d="M1150,566.2 1152.5,582.5 1148.8,597.5 1142.5,605 1140,617.5 1133.8,625 1127.5,622.5 1120,625 1118.8,630"/>
<path d="M1400,141.2 1432.5,141.2 1462.5,144.5 1487.5,147 1507.5,151.2 1540,150 1560,155.5 1590,162.5 1612.5,170 1632.5,181.2 1643.8,173.8"/>
<path d="M1400,125 1415,127.5 1410,131.2 1400,132.5"/>
<path d="M1475,143.8 1505,148 1525,149.5 1560,153.8 1540,151.5 1507.5,150 1475,143.8"/>
<path d="M1632.5,181.2 1633.8,190 1646.2,196.2 1655,200 1665,197.5 1671.2,188.8 1681.2,186.2"/>
<path d="M1612.5,191.2 1617.5,200 1625,202.5 1631.2,203.8 1623.8,195 1616.2,191.2 1612.5,191.2"/>
<path d="M1655,200 1670,210 1687.5,217.5 1700,226.2 1706.2,230 1703.8,237.5 1716.2,243.8 1718.8,250 1706.2,245 1695,237.5 1675,222.5 1662.5,212.5 1650,207.5 1633.8,196.2"/>
<path d="M1650,207.5 1635,212.5 1620,206.8 1607.5,203 1585,205 1590,215 1596.2,227.5 1615,234.5 1630,240 1645,252.5 1662.5,265 1672.5,277.5 1678.8,287.5 1678.8,297.5 1668.8,302.5"/>
<path d="M1630,232.5 1650,241.2 1670,253.8 1682.5,262.5 1676.2,265 1687.5,275 1700,278 1695,280.5 1682.5,273.8 1665,260 1647.5,246.2 1633.8,237.5 1630,232.5"/>
<path d="M1700,286.2 1710,290 1720,292.5 1722.5,290 1731.2,297.5 1725,300 1727.5,306.2 1717.5,302.5 1715,308.8 1708.8,302.5 1710,296.2 1700,286.2"/>
<path d="M1721.2,311.2 1727.5,315 1733.8,325 1735,336.2 1731.2,337.5 1727.5,333.8 1736.2,340 1750,345 1755,350 1748.8,353.8 1742.5,355 1738.8,360 1727.5,355 1722.5,358.8 1725,367.5 1728.8,375 1722.5,372.5 1718.8,363.8 1711.2,361.2 1715,356.2 1725,352.5 1732.5,347.5 1727.5,340 1730,330 1725,320 1721.2,311.2"/>
<path d="M1723.8,358.8 1730,355.5 1735,360 1729.5,365 1723.8,358.8"/>
<path d="M1668.8,302.5 1670,310 1665,320 1672.5,327.5 1677.5,330 1685,337.5 1695,345 1700,350 1692.5,355 1685,350 1677.5,340 1670,330 1662.5,332.5 1657.5,322.5 1652.5,310 1647.5,315 1637.5,321.2 1631.2,313.8 1625,325 1637.5,327.5 1645,337.5 1650,340 1657.5,350 1652.5,352.5 1665,365 1677.5,377.5 1687.5,390 1691.2,397.5 1690.2,412"/>
<path d="M1665,320 1677.5,330"/>
<path d="M1668.8,302.5 1655,287.5 1658.8,281.2 1647.5,266.2 1640,270 1620,263.8 1605,260 1600,252.5 1585,245 1578,242"/>
<path d="M1578,272.2 1580,272.5 1588.8,275 1580,280 1578,283"/>
<path d="M1448.6,450 1452.5,462.5 1462.5,485 1471.2,502.5 1480,520 1490,535.5 1493.8,527.5 1497.5,526.2 1500,517.5 1498.8,500 1496.2,481.2 1505,476.2 1507.5,468.8 1515,456.2 1522.1,450"/>
<path d="M1557.5,450 1565,457.5 1571.2,465 1575,477.5 1581.2,481.2 1587.5,473.8 1598.8,487.5 1606.2,505 1610,517.5 1606.2,535 1613.8,543.8 1620,560 1626.2,570 1638.8,580 1643.8,581.2 1640,567.5 1635,555 1627.5,545 1620,540 1615,530 1611.2,517.5 1612.5,498.8 1616.2,497.5 1617.5,502.5 1625,505 1626.2,495 1632.5,491.2 1645,490 1651.2,496.2 1653.8,505 1646.2,511.2 1648.8,513.8 1640,517.5 1645,530 1655,520 1663.8,510 1662.5,500 1657.5,487.5 1648.8,475 1640,466.2 1632.5,460 1630,453.8 1635,445 1642.5,441.2 1650,443.8 1653.8,448.8 1657.5,441.2 1667.5,435 1677.5,430 1685,422.5 1688.8,412.5 1688.8,412"/>
<path d="M1648.8,452.5 1653.8,450 1658.8,453.8 1656.2,461.2 1651.2,462.5 1648,458 1648.8,452.5"/>
<path d="M1700,416.2 1703.8,415 1707.5,427.5 1706.2,437.5 1702.5,432.5 1700,423.8 1700,416.2"/>
<path d="M1502.5,522.5 1507.5,525 1513.8,537.5 1513.8,546.2 1506.2,549.5 1502.5,540 1501.2,530 1502.5,522.5"/>
<path d="M1591.2,552.5 1601.2,553 1610,562.5 1623.8,575 1635,586.2 1641.2,592.5 1642.5,600 1648.8,607.5 1653.8,612.5 1652.5,631.2 1642.5,632.5 1632.5,620 1623.8,605 1613.8,585 1602.5,570 1592.5,557.5 1591.2,552.5"/>
<path d="M1648.8,637.5 1652.5,632.5 1662.5,636.2 1677.5,637.5 1690,640 1692.5,645 1705,648.8 1698.8,652.5 1685,648.8 1670,646.2 1655,642.5 1648.8,637.5"/>
<path d="M1675,577.5 1683.8,572.5 1695,570 1700,562.5 1707.5,550 1713.8,542.5 1720,550 1727.5,552.5 1726.2,557.5 1718.8,560 1722.5,572.5 1728.8,585 1721.2,586.2 1720,597.5 1713.8,607.5 1711.2,618.8 1705,617.5 1695,613.8 1688.8,615 1678.8,610 1677.5,600 1672,590 1671.2,581.2 1675,577.5"/>
<path d="M1678.8,585 1690,581.2 1702.5,580 1707.5,562.5 1716.2,560"/>
<path d="M1701.2,560 1706.2,555 1705,562.5"/>
<path d="M1732.5,590 1737.5,583.8 1750,585 1760,583.8 1763.8,579.5 1761.2,586.2 1750,590 1740,591.2 1736.2,600 1745,597.5 1752.5,596.2 1747.5,600 1740,603.8 1745,612.5 1750,623.8 1748.8,630 1745,626.2 1740,617.5 1737.5,610 1733.8,617.5 1733.8,628.8 1730,630 1728.8,620 1727.5,610 1731.2,600 1732.5,590"/>
<path d="M1716.2,462.5 1723.8,461.2 1728.8,475 1727.5,485 1735,491.2 1742.5,493.8 1746.2,500 1755,503.8 1758.8,512.5 1752.5,511.2 1746.2,505 1737.5,500 1728.8,495 1723.8,487.5 1718.8,477.5 1717,468.8 1716.2,462.5"/>
<path d="M1742.5,536.2 1750,531.2 1757.5,530 1760,523.8 1766.2,530 1768,541.2 1763.8,551.2 1755,547.5 1753.8,540 1747.5,542.5 1742.5,540 1742.5,536.2"/>
<path d="M1737.5,508.8 1742.5,510 1745,517.5 1740,517.5 1737.5,508.8"/>
<path d="M1747.5,513.8 1752.5,515 1751.2,525 1746.2,523.8 1747.5,513.8"/>
<path d="M1755,512.5 1757.5,520 1753.8,518.8 1755,512.5"/>
<path d="M1713.8,532 1721.2,517.5 1725,512 1724.5,516.2 1718.8,527.5 1713.8,532"/>
<path d="M1777.5,578.8 1780,576.2 1782.5,583.8 1780,590 1781.2,596.2 1778.8,593.8 1777,586.2 1777.5,578.8"/>
<path d="M1795,597.5 1805,593.8 1813.8,596.2 1816.2,610 1821.2,613.8 1830,605 1837.5,603 1852.5,608.8 1867.5,615 1878.8,621.2 1881.2,628.8 1888.8,635 1885,638.8 1887.5,646.2 1895,652.5 1901.2,662.5 1896.2,665.5 1890,662.5 1880,650 1872.5,646.2 1862.5,650 1855,655.5 1847.5,655 1837.5,648.8 1830,650 1836.2,643.8 1836.2,630 1827.5,621.2 1817.5,615 1810,620 1802.5,611.2 1812.5,607.5 1802.5,606.2 1800,601.2 1795,597.5"/>
<path d="M1853.2,610 1849.5,654.5"/>
<path d="M1711.2,653.8 1717.5,648.8 1724.5,650 1722.5,653.8 1711.2,653.8"/>
<path d="M1728.8,650.8 1740,648.8 1746.2,648 1745,652 1732.5,653.8 1728.8,650.8"/>
<path d="M1722.5,658.8 1727.5,657.5 1732.5,661.2 1728.8,663 1722.5,658.8"/>
<path d="M1747.5,662.5 1755,653.8 1770,649.5 1766.2,653 1755,660 1749.5,664.2 1747.5,662.5"/>
<path d="M1768,613.8 1774.5,613.8 1773,617.5 1768.8,617 1768,613.8"/>
<path d="M1778.8,612.5 1790,612 1795,617.5 1785,615 1778.8,612.5"/>
<path d="M1811.8,638.8 1815,630 1816.2,633.8 1813,639.5 1811.8,638.8"/>
<path d="M1893,630.5 1901.2,628.8 1905,626.2"/>
<path d="M1893.8,631.2 1900,635 1905,634.5"/>
<path d="M1717.5,725 1726.2,715 1733.8,706.2 1735,711.2 1741.2,700 1750,692.5 1760,688.8 1768.8,695 1775,685 1785,676.2 1795,670 1805,675 1817.5,676.2 1815,685 1806.2,696.2 1815,705 1825,715 1832.5,710 1840,695 1847.5,677.5 1853.8,666.2 1855,677.5 1857.5,690 1861.2,696.2 1860,715 1857.5,725"/>
<path d="M1578,416 1582.5,425 1587.5,431.2 1595,438.8 1602.5,435 1605,442.5 1600,448.8 1590,453.8 1588.8,463.8 1592.5,475"/>
<path d="M1600,448.8 1607.5,453.8 1610,467.5 1621.2,462.5 1627.5,461.2 1640,482.5 1640,488.8 1645,490"/>
<path d="M1605,442.5 1615,446.2 1620,456.2 1630,461.2"/>
<path d="M1602.5,435 1612.5,431.2 1618.8,428.8 1630,433.8 1635,445"/>
<path d="M1620,546.2 1627.5,550 1628.8,545"/>
<path d="M1717.5,725 1717.5,725 1705,731.2 1692.5,735 1680,738.8 1672.5,742.5 1670,747.5 1662.5,757.5 1658.8,770 1655,775 1652.5,790 1645,810 1633.8,825 1637.5,830 1643.8,831.2 1657.5,825.5 1670,824.5 1680,823.8 1692.5,816.2 1710,812 1725,809.5 1732.5,812.5 1737,817.5 1736.2,828.8 1741.2,830 1755,818.8 1747.5,832.5 1743.8,837.5 1746.2,840 1742.5,850 1750,855 1760,852 1763.8,856.2 1775,852.5 1790,848.8 1805,835 1825,820 1840,807.5 1852.5,795 1862.5,780 1868.8,767.5 1867.5,752.5 1863.8,745 1865,735 1857.5,725 1857.5,725"/>
<path d="M1732,886.2 1740,875 1745,868.8 1760,869.2 1755,876.2 1745,882.5 1736.2,886.2 1732,886.2"/>
<path d="M1923.8,827.5 1926.2,832.5 1922.5,840 1925,843.8 1921.2,847.5 1930,848.8 1922.5,852.5 1910,865 1900,870 1883.8,874.5 1882.5,871.2 1895,866.2 1896.2,860 1907.5,853.8 1915,847.5 1920,837.5 1923.8,827.5"/>
<path d="M1881.2,867.5 1878.8,872.5 1862.5,880 1850,887.5 1832.5,895 1815,905 1808.8,903.8 1806.2,901.2 1822.5,895 1840,887.5 1857.5,878.8 1872.5,871.2 1881.2,867.5"/>
<path d="M1949.2,732.5 1952.5,731.2 1958.8,743.8 1956.2,747.5 1951.2,740 1949.2,732.5"/>
<path d="M1979.5,698.8 1981.2,693.8 1982.5,700 1981.2,707 1979.2,705 1979.5,698.8"/>
<path d="M2030,715 2036.2,712.5 2038.8,715 2033.8,718.8 2030,715"/>
<path d="M2042.5,707.5 2050,704.5 2048.8,707 2043,709.5 2042.5,707.5"/>
<path d="M1948.8,643.8 1955,647.5 1953.8,650 1947.5,646.2 1948.8,643.8"/>
<path d="M1960,650 1963,649.5 1962,660 1960,657.5 1960,650"/>
<path d="M1952.5,657.5 1957.5,657 1958.8,660 1953.8,660.5 1952.5,657.5"/>
<path d="M1961.2,663.8 1965,664.5 1965.5,667 1962,666.2 1961.2,663.8"/>
<path d="M847.5,1001.2 852.5,1000 853.8,1003.8 848.8,1007.5 845,1011.2 847.5,1017.5 842.5,1026.2 850,1033.8 862.5,1040 870,1043.8 860,1044.5 850,1040 840,1030 837.5,1017.5 840,1007.5 846.2,1002.5 847.5,1001.2"/>
<path d="M870,1043.8 850,1047.5 830,1046.2 815,1048.8 805,1055 792.5,1051.2 775,1046.2 787.5,1043.8 772.5,1042.5 780,1047.5 767.5,1052.5 755,1052.5 745,1050 730,1050 722.5,1048.8 735,1052.5 715,1055 705,1057.5 712.5,1061.2 720,1067.5 705,1065 715,1068.8 740,1072.5 745,1074.5 730,1073.8 720,1070.5"/>
<path d="M780,1078.8 792.5,1080.5 787.5,1081.5"/>
<path d="M820,1090 855,1091.2 890,1095 870,1093.8 840,1092 820,1090"/>
<path d="M870,1043.8 873.8,1033.8 880,1042.5 892.5,1052.5 890,1062.5 877.5,1063.8 895,1067.5 890,1071.2 905,1075 920,1077.5 937.5,1076.2 945,1078.8 955,1082.5 965,1087.5 967.5,1090"/>
<path d="M950,1068.8 960,1067.5 970,1075 960,1078.8 952.5,1075 950,1068.8"/>
<path d="M950,1070 960,1067.5 968.8,1073.8 960,1078.8 952.5,1076.2 950,1070"/>
<path d="M968.8,1086.2 982.5,1082 977.5,1072.5 987.5,1067.5 1010,1055 1012.5,1048.8 1020,1046.2 1021.2,1041.2 1030,1038.8 1050,1040 1070,1035 1075,1037.5 1100,1035 1115,1036.2 1150,1031.2 1157.5,1026.2 1162.5,1031.2 1175,1027.5 1200,1022.5 1225,1015"/>
<path d="M1225,1015 1235,1022.5 1260,1025 1250,1032.5 1240,1042.5 1235,1041.2 1257.5,1027.5 1287.5,1021.2 1330,1016.2 1332.5,1018 1360,1013.8 1382.5,1010"/>
<path d="M1422.5,1023 1442.5,1017.5 1460,1016.2 1485,1017"/>
<path d="M1256.2,1065 1270,1057.5 1292.5,1053.8 1293.8,1057.5 1280,1062.5 1260,1066.2 1256.2,1065"/>
<path d="M1315,1080 1335,1073.8 1357.5,1070.8 1342.5,1076.2 1315,1080"/>
<path d="M1425,1061.2 1450,1056.2 1465,1059.5 1445,1062.5 1425,1061.2"/>
<path d="M1019.6,345 1016.2,355 1005,367.5 1000,376.2 1001.2,388.8 995,392.5 983.8,397.5 976.2,405 971.2,415 962.5,427.5 957.5,440 958.4,445.5"/>
<path d="M1021.7,345 1025,347.5 1040,346.2 1043.8,345"/>
<path d="M1102.5,345 1102.5,345 1098.8,350 1105,356.2 1112.5,359.5 1120,365 1127.5,367.5 1132.5,373.8 1142.5,377.5 1150,381.2 1153.8,370 1160,365.5 1167.5,367.5 1172.5,372.5 1180,373.8 1195,376.2 1202.5,375 1212.5,376.2 1227.5,376.2 1231.2,367.5 1230,355 1230,345 1230,345"/>
<path d="M1231.2,367.5 1232,373.5"/>
<path d="M1232,384.5 1231.2,395 1230,398.8 1220,385 1232,404.2"/>
<path d="M1230,398.8 1232,390.8"/>
<path d="M1170,347.5 1177.5,346.2 1181.2,350 1172.5,351.2 1170,347.5"/>
<path d="M1212.5,350 1220,347 1223,348.8 1216.2,353 1212.5,350"/>
<path d="M1040,346.2 1042.5,355 1043.8,365 1030,371.2 1025,378.8 1015,386.2 1005,391.2 1003.8,402.5 1003.8,411.2 986.2,411.2 985,427.5 980,430 979.5,441.2 957.5,442"/>
<path d="M995,392.5 985,405 973.8,427.5 970,441.2 969.1,445.5"/>
<path d="M1003.8,402.5 1030,422.5 1056.5,445.5"/>
<path d="M1091,445.5 1115,428 1126.2,433 1135,428.8 1166.7,445.5"/>
<path d="M1187,445.5 1185,420 1180,373.8"/>
<path d="M1003.8,411.2 1016.2,417.5 1017.9,445.5"/>
<path d="M1091.4,345 1090,355 1095,362.5 1098.8,375 1098.8,377.5 1101.2,410 1112.5,426.2 1127.5,433.8 1132.5,428.8"/>
<path d="M1105,356.2 1108.8,365 1102.5,375 1098.8,377.5"/>
<path d="M1132.5,428.8 1130,435 1134.2,445.5"/>
<path d="M1186.2,438 1232,438"/>
<path d="M1231.2,367.5 1232,367.2"/>
<path d="M191.7,456.7 196.7,450 199.3,453.3 196.7,457.3 191.7,456.7"/>
<path d="M180.7,436 182.7,436 182.7,437.7 180.7,437.7 180.7,436"/>
<path d="M187,440 189.3,440 189.3,442 187,442 187,440"/>
<path d="M190.7,442 193,442.3 192.7,444 190.7,443.7 190.7,442"/>
<path d="M194,444 196.7,444.7 196,446.7 194,446 194,444"/>
<path d="M1127,745 1128.4,748.4 1129.2,758.4 1131.7,771.8 1135.1,783.5 1138.4,793.5 1140.9,800.2 1143.4,808.5 1142.6,823.5 1148.4,830.2 1153.4,828.5 1163.4,824.4 1171.8,823.9 1180.1,823.5 1188.5,820.2 1196.8,815.2 1203.5,809.3 1210.2,801.8 1216.9,794.3 1221,788.5 1223.5,781.8 1224.4,773.5 1228.5,767.6 1235.2,764.3 1241.1,758.4 1242.7,748.4 1242.5,745"/>
<path d="M1191,797.7 1199.3,789.3 1203.5,793.5 1201,799.3 1195.2,802.2 1191,797.7"/>
<path d="M1213.5,775.1 1216.9,770.1 1220.2,773.5 1219.4,779.3 1216,779.8 1213.5,775.1"/>
<path d="M1158.4,745 1157.6,763.4 1155.9,775.1 1155.1,786 1150.1,790.2 1143.4,791.8 1139.2,786.8 1135.9,788.5"/>
<path d="M1157.6,763.4 1160.9,773.5 1164.3,776.8 1170.1,770.1 1175.1,766.8 1181.8,769.3 1188.5,766.8 1191.8,761.8 1196.8,757.6 1201.8,750.1 1210.2,745.9 1219.4,745.1 1221.9,760.1 1221,770.1 1223.5,775.1"/>
<path d="M1209.1,745 1210.2,745.9"/>
<path d="M1219.4,745.1 1219.4,745"/>
<path d="M1293.7,768.4 1287,765.1 1285.3,755.1 1286.1,745.1 1286.2,745"/>
<path d="M1293.7,768.4 1303.7,763.4 1310.4,748.4 1311.7,745"/>
<path d="M1398,141.5 1400,141.8 1419.3,143.9 1434.3,141.1 1421.4,136.4 1412.8,132.6 1427.8,136.4 1442.8,141.1"/>
<path d="M1398,124.2 1400,124.6 1415,125.7 1400,127 1398,127.1"/>
<path d="M1475,143.9 1496.4,145 1528.6,149.3 1545.7,148.2 1560.7,153.6 1545.7,151.9 1524.3,151.9 1496.4,148.4 1475,143.9"/>
<path d="M1250,108.6 1262.9,110.7 1259.4,112"/>
<path d="M1070,106.7 1083.3,103.3 1100,105.7 1096.7,111.7 1086.7,110 1090,116.7 1080,115 1073.3,111 1070,106.7"/>
<path d="M1095,112.3 1100,111 1101.7,115 1096.7,115.7 1095,112.3"/>
<path d="M1130,103.3 1140,102.3 1141.7,105 1131.7,105.7 1130,103.3"/>
<path d="M1213.3,101.7 1233.3,104.3 1260,108.3 1246.7,109 1220,105 1213.3,101.7"/>
<path d="M1298.1,237 1303.5,245 1312.6,251.7 1303.5,250.9 1288.4,251.7 1265.1,246.7 1254.2,254.2 1255.9,265.9 1265.9,270.1 1270.1,278.4"/>
<path d="M1367.1,237 1390.3,250 1410.3,253.4 1432.8,261.7 1440.4,255 1453.7,252.5 1472.1,257.5 1467.1,245 1483.8,249.2 1497.1,255.9 1522.2,260.9 1542.2,255.9 1560.6,257.5 1565.6,267.6 1577.2,270.9 1578,270.7"/>
<path d="M1432.8,261.7 1430.3,273.4 1422.8,275.1 1427,283.4 1418.6,288.4 1428.7,297.6 1428.7,299.3"/>
<path d="M1432.8,261.7 1447,268.4 1460.4,278.4 1467.1,285.1 1485.4,290.1 1503.8,300.9 1523.8,301.8 1538.8,305.1 1549.7,308.5 1553.9,304.3 1567.2,301.8 1570.6,291.8 1563.9,288.4 1572.2,283.4 1578,278.8"/>
<path d="M1270.1,278.4 1280.1,275.1 1288.4,275.9 1292.6,283.4 1285.1,285.1 1283.4,290.1 1290.1,296.8 1300.1,305.1 1303.5,311.8 1308.5,321.8 1313.5,328.5 1316.8,336.8 1310.1,339.3 1303.5,338.5 1295.1,333.5 1288.4,326.8 1290.1,318.5 1285.1,313.5 1276.7,305.1 1268.4,293.4 1265.9,286.8 1270.1,278.4"/>
<path d="M1301,305.1 1306.8,304.3 1311.8,310.1 1308.5,313.5 1302.6,310.1 1301,305.1"/>
<path d="M1389.4,311.8 1396.9,310.1 1399.4,313.5 1393.6,317.6 1388.6,316 1389.4,311.8"/>
<path d="M1303.5,311.8 1310.1,312.6 1313.5,308.5 1316.8,310.1 1307.6,286.8 1316.8,283.4 1330.2,291.8 1343.5,296.8 1353.5,295.1 1361.9,301.8 1368.6,310.1 1376.9,313.5 1380.3,308.5 1386.1,301.8 1396.9,300.9 1413.6,300.1 1428.7,299.3"/>
<path d="M1316.8,310.1 1321,306.8 1326,301.8 1333.5,306.8 1340.2,311.8 1350.2,318.5 1360.2,325.2 1371.9,330.2 1378.6,333.5 1376.9,335.2"/>
<path d="M1316.8,336.8 1323.5,331.8 1330.2,331 1340.2,335.2 1346.9,338.5 1353.5,341.8 1356.9,341.8 1361.9,348.5 1366.9,346.9 1371.9,343.5 1371.1,338.5 1376.9,335.2 1385.3,336.8 1386.9,331.8"/>
<path d="M1378.6,333.5 1386.1,335.2 1385.3,325.2 1380.3,325.2 1378.6,321.8 1385.3,316.8 1386.1,313.5 1383.6,308.5 1386.1,301.8"/>
<path d="M1386.9,320.1 1396.9,322.6 1407,321.8 1411.1,316.8 1418.6,313.5 1426.2,306.8 1428.7,303.4 1428.7,299.3"/>
<path d="M1386.9,331.8 1393.6,336 1396.9,329.3 1402,331.8 1404.5,338.5 1413.6,335.2 1420.3,335.2 1407,340.2 1405.3,343.5 1410.3,350.2 1409.5,356.9 1405.3,358.5 1407,366.9 1402,373.6 1395.3,376.9 1394.4,385.3 1386.9,386.9 1378.6,387.8 1369.4,385.3"/>
<path d="M1356.9,341.8 1358.5,355.2 1361.9,366.9 1366.9,376.9 1369.4,385.3 1375.2,391.9 1381.9,397.8 1386.1,405.3 1380.3,408.6 1379.4,416.1"/>
<path d="M1420.3,335.2 1430.3,343.5 1440.4,348.5 1423.7,353.5 1430.3,361.9 1437,368.6 1434.5,376.9 1432.8,385.3 1430.3,396.9 1420.3,403.6 1424.5,412 1432,420.3 1418.6,425.3"/>
<path d="M1407,321.8 1413.6,330.2 1420.3,335.2"/>
<path d="M1440.4,348.5 1447,355.2 1454.5,366.9 1452.9,368.6 1455.4,371.9 1472.1,381.9 1483.8,385.3 1497.1,391.9 1513.8,397.8 1517.1,396.9"/>
<path d="M1472.1,381.9 1470.4,388.6 1480.4,393.6 1493.8,400.3 1505.5,403.6 1517.1,407 1518.8,403.6 1517.1,397.8"/>
<path d="M1521.3,396.9 1528.8,395.3 1536.3,399.4 1538,404.4 1527.2,403.6 1522.2,401.1 1521.3,396.9"/>
<path d="M1517.1,397.8 1521.3,396.9"/>
<path d="M1303.5,383.6 1310.1,381.9 1316.8,391.9 1323.5,398.6 1330.2,403.6 1336.8,407 1346.9,403.6 1350.2,408.6 1356.9,412.8 1366.9,414.5 1379.4,416.1 1393.6,415 1405.3,414.5 1412,420.3 1418.6,425.3 1423.7,430.3 1430.3,440.3 1440.4,445.4 1447,442 1449.7,450"/>
<path d="M1303.5,383.6 1308.5,393.6 1316.8,407 1320.2,413.6 1326.8,422 1330.2,429.5 1346.9,434.5 1350.2,418.6 1348.5,410.3 1351,408.6 1353.5,418.6 1363.6,427 1371.9,432 1376.9,435.3 1379.8,450"/>
<path d="M1321.8,410.3 1324.3,409.5 1326,416.1 1323.5,419.5 1321.8,410.3"/>
<path d="M1330.2,429.5 1331.8,423.6 1346.9,422.8 1350.2,418.6"/>
<path d="M1346.9,434.5 1352.8,450"/>
<path d="M1280.1,350.2 1281.8,358.5 1288.4,363.5 1296.8,370.2 1298.4,378.6 1301.8,381.9 1303.5,383.6"/>
<path d="M1265.1,321.8 1270.1,331.8 1275.1,341.8 1280.1,350.2"/>
<path d="M1265.1,321.8 1273.4,325.2 1280.1,323.5 1288.4,326.8"/>
<path d="M1232,293.6 1238.3,296.8 1248.4,299.3 1258.4,301.8 1268.4,305.1 1271.7,308.5 1265.9,311.8 1260.1,311 1261.7,315.1 1265.9,321.8"/>
<path d="M1271.7,308.5 1278.4,313.5 1285.1,313.5"/>
<path d="M1232,301.3 1240,299.3 1248.4,299.3"/>
<path d="M1232,339.1 1243.4,337.7 1258.4,336 1268.4,335.2 1271.7,336.8 1275.1,341.8"/>
<path d="M1257.5,336.8 1256.7,353.5 1248.4,361.9 1236.7,368.6 1232,367.4"/>
<path d="M1248.4,361.9 1251.7,369.4 1268.4,376.9 1283.4,388.6 1294.3,389.4 1296.8,383.6 1301.8,381.9"/>
<path d="M1294.3,389.4 1300.1,392.8 1304.3,386.1"/>
<path d="M1232,371.2 1240,368.6 1248.4,361.9"/>
<path d="M1241.7,373.6 1246.7,378.6 1241.7,385.3 1236.7,388.6 1232,389.8"/>
<path d="M1232,438.7 1250,438.7 1251.4,450"/>
<path d="M1232,398.8 1236.7,407 1246.7,418.6 1256.7,430.3 1263.4,443.7 1267.2,450"/>
<path d="M1232,406.3 1240,417 1250,430.3 1253.4,445.4 1254.5,450"/>
<path d="M1184.2,125.1 1190.5,121 1198.9,117.8 1205.7,119.9 1201,124.1 1196.8,127.2 1195.7,131.4 1198.9,136.7 1204.1,141.9 1212.5,145 1206.2,146.1 1198.9,144 1194.7,139.8 1189.4,140.9 1187.3,134.6 1188.4,129.3 1184.2,125.1"/>
<path d="M1231.3,135.6 1236.6,134.6 1242.9,136.7 1247.1,139.8 1253.3,144 1259.6,149.2 1265.9,153.4 1272.2,155.5 1277.4,159.7 1282.7,165 1280.6,167.1 1277.4,166 1276.4,161.8 1271.1,158.7 1263.8,155.5 1257.5,151.3 1251.2,147.1 1245,145 1238.7,144 1236.6,139.8 1232.4,137.2 1231.3,135.6"/>
<path d="M1225,150.3 1232.4,149.2 1238.7,150.3 1245,152.4 1253.3,155.5 1259.6,157.6 1255.4,157.1 1247.1,155 1238.7,152.9 1230.3,152.4 1226.1,151.9 1225,150.3"/>
<path d="M1182,156.6 1186.3,155.5 1191.5,158.7 1193.6,161.8 1199.9,163.9 1201,160.2 1207.2,156.6 1211.4,154.5 1213.5,157.1 1217.7,157.6 1224,155.5 1226.1,153.4 1231.3,154.5"/>
<path d="M1182,164.2 1185.2,162.9 1189.4,167.1 1186.3,171.2 1182.1,173.3 1182,173.3"/>
<path d="M1254.4,131.4 1259.6,130.4 1268,130.9 1263.8,132.5 1257.5,133.5 1265.9,136.7 1271.1,140.3 1263.8,138.8 1257.5,135.6"/>
<path d="M1259.6,125.1 1262.8,122.5 1274.3,119.4 1284.8,118.3 1292.1,119.4 1300.5,118.9 1311,121 1319.3,124.6 1322.5,128.3 1331.9,130.4 1341.3,132.5 1347.6,131.4 1363.3,131.4 1371.7,134.6 1379.1,138.8 1389.5,139.8 1400,138.8"/>
<path d="M1259.6,125.1 1263.8,127.8 1268,130.4"/>
</g>
<g fill="none" stroke="#000" stroke-width="1.1" stroke-dasharray="4 1.9">
<path d="M562.6,1043.1 H1537.4"/>
<path d="M313.8,949.1 H1786.2"/>
<path d="M150,838.2 H1950"/>
<path d="M54.8,717.2 H2045.2"/>
<path d="M23.5,591.4 H2076.5"/>
<path d="M54.8,465.6 H2045.2"/>
<path d="M150,344.6 H1950"/>
<path d="M313.8,233.7 H1786.2"/>
<path d="M562.6,139.7 H1537.4"/>
<path d="M1050,78.1 972.9,81.4 927.9,86.4 890.4,92.3 857.2,98.9 827,106.2 799,113.9 772.9,122.1 748.3,130.7 725.1,139.7 703,149 682,158.7 662,168.6 642.9,178.9 624.6,189.4 607.2,200.1 590.4,211.1 574.5,222.3 559.2,233.7 544.6,245.4 530.6,257.2 517.3,269.2 504.6,281.4 492.5,293.7 481,306.2 470.1,318.9 459.8,331.7 450,344.6 440.8,357.6 432.1,370.8 424,384.1 416.4,397.4 409.4,410.9 402.9,424.4 396.9,438.1 391.5,451.8 386.6,465.6 382.2,479.4 378.3,493.3 374.9,507.2 372.1,521.2 369.8,535.2 368,549.2 366.7,563.3 365.9,577.3 365.7,591.4 365.9,605.5 366.7,619.5 368,633.6 369.8,647.6 372.1,661.6 374.9,675.6 378.3,689.5 382.2,703.4 386.6,717.2 391.5,731 396.9,744.7 402.9,758.4 409.4,771.9 416.4,785.4 424,798.7 432.1,812 440.8,825.2 450,838.2 459.8,851.1 470.1,863.9 481,876.6 492.5,889.1 504.6,901.4 517.3,913.6 530.6,925.6 544.6,937.4 559.2,949.1 574.5,960.5 590.4,971.7 607.2,982.7 624.6,993.4 642.9,1003.9 662,1014.2 682,1024.1 703,1033.8 725.1,1043.1 748.3,1052.1 772.9,1060.7 799,1068.9 827,1076.6 857.2,1083.9 890.4,1090.5 927.9,1096.4 972.9,1101.4 1050,1104.7"/>
<path d="M1050,78.1 1011.5,81.4 988.9,86.4 970.2,92.3 953.6,98.9 938.5,106.2 924.5,113.9 911.4,122.1 899.2,130.7 887.5,139.7 876.5,149 866,158.7 856,168.6 846.4,178.9 837.3,189.4 828.6,200.1 820.2,211.1 812.2,222.3 804.6,233.7 797.3,245.4 790.3,257.2 783.7,269.2 777.3,281.4 771.3,293.7 765.5,306.2 760.1,318.9 754.9,331.7 750,344.6 745.4,357.6 741.1,370.8 737,384.1 733.2,397.4 729.7,410.9 726.4,424.4 723.5,438.1 720.7,451.8 718.3,465.6 716.1,479.4 714.1,493.3 712.5,507.2 711.1,521.2 709.9,535.2 709,549.2 708.3,563.3 708,577.3 707.8,591.4 708,605.5 708.3,619.5 709,633.6 709.9,647.6 711.1,661.6 712.5,675.6 714.1,689.5 716.1,703.4 718.3,717.2 720.7,731 723.5,744.7 726.4,758.4 729.7,771.9 733.2,785.4 737,798.7 741.1,812 745.4,825.2 750,838.2 754.9,851.1 760.1,863.9 765.5,876.6 771.3,889.1 777.3,901.4 783.7,913.6 790.3,925.6 797.3,937.4 804.6,949.1 812.2,960.5 820.2,971.7 828.6,982.7 837.3,993.4 846.4,1003.9 856,1014.2 866,1024.1 876.5,1033.8 887.5,1043.1 899.2,1052.1 911.4,1060.7 924.5,1068.9 938.5,1076.6 953.6,1083.9 970.2,1090.5 988.9,1096.4 1011.5,1101.4 1050,1104.7"/>
<path d="M1050,78.1 V1104.7"/>
<path d="M1050,78.1 1088.5,81.4 1111.1,86.4 1129.8,92.3 1146.4,98.9 1161.5,106.2 1175.5,113.9 1188.6,122.1 1200.8,130.7 1212.5,139.7 1223.5,149 1234,158.7 1244,168.6 1253.6,178.9 1262.7,189.4 1271.4,200.1 1279.8,211.1 1287.8,222.3 1295.4,233.7 1302.7,245.4 1309.7,257.2 1316.3,269.2 1322.7,281.4 1328.7,293.7 1334.5,306.2 1339.9,318.9 1345.1,331.7 1350,344.6 1354.6,357.6 1358.9,370.8 1363,384.1 1366.8,397.4 1370.3,410.9 1373.6,424.4 1376.5,438.1 1379.3,451.8 1381.7,465.6 1383.9,479.4 1385.9,493.3 1387.5,507.2 1388.9,521.2 1390.1,535.2 1391,549.2 1391.7,563.3 1392,577.3 1392.2,591.4 1392,605.5 1391.7,619.5 1391,633.6 1390.1,647.6 1388.9,661.6 1387.5,675.6 1385.9,689.5 1383.9,703.4 1381.7,717.2 1379.3,731 1376.5,744.7 1373.6,758.4 1370.3,771.9 1366.8,785.4 1363,798.7 1358.9,812 1354.6,825.2 1350,838.2 1345.1,851.1 1339.9,863.9 1334.5,876.6 1328.7,889.1 1322.7,901.4 1316.3,913.6 1309.7,925.6 1302.7,937.4 1295.4,949.1 1287.8,960.5 1279.8,971.7 1271.4,982.7 1262.7,993.4 1253.6,1003.9 1244,1014.2 1234,1024.1 1223.5,1033.8 1212.5,1043.1 1200.8,1052.1 1188.6,1060.7 1175.5,1068.9 1161.5,1076.6 1146.4,1083.9 1129.8,1090.5 1111.1,1096.4 1088.5,1101.4 1050,1104.7"/>
<path d="M1050,78.1 1127.1,81.4 1172.1,86.4 1209.6,92.3 1242.8,98.9 1273,106.2 1301,113.9 1327.1,122.1 1351.7,130.7 1374.9,139.7 1397,149 1418,158.7 1438,168.6 1457.1,178.9 1475.4,189.4 1492.8,200.1 1509.6,211.1 1525.5,222.3 1540.8,233.7 1555.4,245.4 1569.4,257.2 1582.7,269.2 1595.4,281.4 1607.5,293.7 1619,306.2 1629.9,318.9 1640.2,331.7 1650,344.6 1659.2,357.6 1667.9,370.8 1676,384.1 1683.6,397.4 1690.6,410.9 1697.1,424.4 1703.1,438.1 1708.5,451.8 1713.4,465.6 1717.8,479.4 1721.7,493.3 1725.1,507.2 1727.9,521.2 1730.2,535.2 1732,549.2 1733.3,563.3 1734.1,577.3 1734.3,591.4 1734.1,605.5 1733.3,619.5 1732,633.6 1730.2,647.6 1727.9,661.6 1725.1,675.6 1721.7,689.5 1717.8,703.4 1713.4,717.2 1708.5,731 1703.1,744.7 1697.1,758.4 1690.6,771.9 1683.6,785.4 1676,798.7 1667.9,812 1659.2,825.2 1650,838.2 1640.2,851.1 1629.9,863.9 1619,876.6 1607.5,889.1 1595.4,901.4 1582.7,913.6 1569.4,925.6 1555.4,937.4 1540.8,949.1 1525.5,960.5 1509.6,971.7 1492.8,982.7 1475.4,993.4 1457.1,1003.9 1438,1014.2 1418,1024.1 1397,1033.8 1374.9,1043.1 1351.7,1052.1 1327.1,1060.7 1301,1068.9 1273,1076.6 1242.8,1083.9 1209.6,1090.5 1172.1,1096.4 1127.1,1101.4 1050,1104.7"/>
</g>
</g>
<g font-size="16.2" text-anchor="middle">
<text transform="translate(547.1,145) rotate(-21)" y="5.6" textLength="24.3" lengthAdjust="spacingAndGlyphs">0.5</text>
<text transform="translate(605.6,178.4) rotate(-10)" y="5.6" textLength="29.8" lengthAdjust="spacingAndGlyphs">-1.5</text>
<text transform="translate(379.3,221) rotate(-47)" y="5.6" textLength="24.3" lengthAdjust="spacingAndGlyphs">1.5</text>
<text transform="translate(387.7,235.2) rotate(-32)" y="5.6" textLength="24.3" lengthAdjust="spacingAndGlyphs">0.5</text>
<text transform="translate(314.2,249.4) rotate(-32)" y="5.6" textLength="24.3" lengthAdjust="spacingAndGlyphs">2.5</text>
<text transform="translate(308.4,287) rotate(-26)" y="5.6" textLength="29.8" lengthAdjust="spacingAndGlyphs">-0.5</text>
<text transform="translate(503.7,300.3) rotate(21)" y="5.6" textLength="24.3" lengthAdjust="spacingAndGlyphs">0.5</text>
<text transform="translate(209.3,399) rotate(15)" y="5.6" textLength="24.3" lengthAdjust="spacingAndGlyphs">0.5</text>
<text transform="translate(591.7,428.3) rotate(-40)" y="5.6" textLength="29.8" lengthAdjust="spacingAndGlyphs">-0.5</text>
<text transform="translate(700,254) rotate(-50)" y="5.6" textLength="24.3" lengthAdjust="spacingAndGlyphs">0.5</text>
<text transform="translate(857.5,221.3) rotate(38)" y="5.6" textLength="24.3" lengthAdjust="spacingAndGlyphs">0.5</text>
<text transform="translate(1028.7,166.3) rotate(-40)" y="5.6" textLength="24.3" lengthAdjust="spacingAndGlyphs">0.5</text>
<text transform="translate(905.5,131.3) rotate(-72)" y="5.6" textLength="29.8" lengthAdjust="spacingAndGlyphs">-2.5</text>
<text transform="translate(1277.5,115) rotate(8)" y="5.6" textLength="24.3" lengthAdjust="spacingAndGlyphs">0.5</text>
<text transform="translate(1370,104.3) rotate(5)" y="5.6" textLength="29.8" lengthAdjust="spacingAndGlyphs">-0.5</text>
<text transform="translate(1368.3,176.7) rotate(15)" y="5.6" textLength="29.8" lengthAdjust="spacingAndGlyphs">-3.5</text>
<text transform="translate(1242.5,207.5) rotate(47)" y="5.6" textLength="29.8" lengthAdjust="spacingAndGlyphs">-1.5</text>
<text transform="translate(1330,232.5) rotate(10)" y="5.6" textLength="29.8" lengthAdjust="spacingAndGlyphs">-2.5</text>
<text transform="translate(1108.7,358.2) rotate(28)" y="5.6" textLength="24.3" lengthAdjust="spacingAndGlyphs">0.5</text>
<text transform="translate(1584.3,161) rotate(5)" y="5.6" textLength="24.3" lengthAdjust="spacingAndGlyphs">0.5</text>
<text transform="translate(1688.3,220) rotate(35)" y="5.6" textLength="24.3" lengthAdjust="spacingAndGlyphs">0.5</text>
<text transform="translate(1728.3,245) rotate(15)" y="5.6" textLength="24.3" lengthAdjust="spacingAndGlyphs">1.5</text>
<text transform="translate(1776.7,248.3) rotate(20)" y="5.6" textLength="24.3" lengthAdjust="spacingAndGlyphs">2.5</text>
<text transform="translate(1555,362.7) rotate(0)" y="5.6" textLength="24.3" lengthAdjust="spacingAndGlyphs">0.5</text>
<text transform="translate(1622.7,455) rotate(10)" y="5.6" textLength="29.8" lengthAdjust="spacingAndGlyphs">-0.5</text>
<text transform="translate(525,769.8) rotate(42)" y="5.6" textLength="29.8" lengthAdjust="spacingAndGlyphs">-1.5</text>
<text transform="translate(656,886.7) rotate(-90)" y="5.6" textLength="29.8" lengthAdjust="spacingAndGlyphs">-0.5</text>
<text transform="translate(801.7,837.3) rotate(55)" y="5.6" textLength="24.3" lengthAdjust="spacingAndGlyphs">1.5</text>
<text transform="translate(1020,820) rotate(40)" y="5.6" textLength="29.8" lengthAdjust="spacingAndGlyphs">-1.5</text>
<text transform="translate(1228.3,789.3) rotate(30)" y="5.6" textLength="29.8" lengthAdjust="spacingAndGlyphs">-1.5</text>
<text transform="translate(1286.3,886.2) rotate(0)" y="5.6" textLength="29.8" lengthAdjust="spacingAndGlyphs">-0.5</text>
<text transform="translate(911.7,1006.7) rotate(-8)" y="5.6" textLength="24.3" lengthAdjust="spacingAndGlyphs">1.5</text>
<text transform="translate(970,1057.3) rotate(-5)" y="5.6" textLength="24.3" lengthAdjust="spacingAndGlyphs">4.5</text>
<text transform="translate(1035,1052.7) rotate(30)" y="5.6" textLength="24.3" lengthAdjust="spacingAndGlyphs">3.5</text>
<text transform="translate(1141.7,1048.3) rotate(-10)" y="5.6" textLength="24.3" lengthAdjust="spacingAndGlyphs">2.5</text>
<text transform="translate(1263.3,1053.3) rotate(60)" y="5.6" textLength="24.3" lengthAdjust="spacingAndGlyphs">4.5</text>
<text transform="translate(755,1068.3) rotate(5)" y="5.6" textLength="24.3" lengthAdjust="spacingAndGlyphs">3.5</text>
<text transform="translate(1323,1070) rotate(10)" y="5.6" textLength="24.3" lengthAdjust="spacingAndGlyphs">4.5</text>
<text transform="translate(1528.3,775) rotate(54)" y="5.6" textLength="29.8" lengthAdjust="spacingAndGlyphs">-0.5</text>
<text transform="translate(1893.3,823.3) rotate(-21)" y="5.6" textLength="24.3" lengthAdjust="spacingAndGlyphs">0.5</text>
<text transform="translate(1668.3,927.3) rotate(0)" y="5.6" textLength="29.8" lengthAdjust="spacingAndGlyphs">-0.5</text>
<text transform="translate(1410,960.7) rotate(0)" y="5.6" textLength="24.3" lengthAdjust="spacingAndGlyphs">0.5</text>
<text transform="translate(1443.3,1048.3) rotate(30)" y="5.6" textLength="24.3" lengthAdjust="spacingAndGlyphs">3.5</text>
</g>
<ellipse cx="1050.0" cy="591.4" rx="1026.5" ry="513.25" fill="none" stroke="#000" stroke-width="1.4"/>
<rect x="21.1" y="1117" width="108.7" height="41.2" fill="#40005c"/>
<rect x="129.4" y="1117" width="108.7" height="41.2" fill="#6200a2"/>
<rect x="237.7" y="1117" width="108.7" height="41.2" fill="#b800ff"/>
<rect x="346" y="1117" width="108.7" height="41.2" fill="#000098"/>
<rect x="454.3" y="1117" width="108.7" height="41.2" fill="#0022ff"/>
<rect x="562.6" y="1117" width="108.7" height="41.2" fill="#007aff"/>
<rect x="670.9" y="1117" width="108.7" height="41.2" fill="#00c8ff"/>
<rect x="779.2" y="1117" width="108.7" height="41.2" fill="#00ffff"/>
<rect x="887.5" y="1117" width="108.7" height="41.2" fill="#c0ffff"/>
<rect x="995.8" y="1117" width="108.7" height="41.2" fill="#ffffff"/>
<rect x="1104.1" y="1117" width="108.7" height="41.2" fill="#ffff96"/>
<rect x="1212.4" y="1117" width="108.7" height="41.2" fill="#ffdc00"/>
<rect x="1320.7" y="1117" width="108.7" height="41.2" fill="#ffc200"/>
<rect x="1429" y="1117" width="108.7" height="41.2" fill="#ffaa00"/>
<rect x="1537.3" y="1117" width="108.7" height="41.2" fill="#ff9200"/>
<rect x="1645.6" y="1117" width="108.7" height="41.2" fill="#ff7800"/>
<rect x="1753.9" y="1117" width="108.7" height="41.2" fill="#ff5a00"/>
<rect x="1862.2" y="1117" width="108.7" height="41.2" fill="#e00000"/>
<rect x="1970.5" y="1117" width="108.7" height="41.2" fill="#ba0000"/>
<rect x="21.2" y="1117" width="2057.8" height="41.2" fill="none" stroke="#000" stroke-width="1.1"/>
<g stroke="#000" stroke-width="1.1">
<path d="M21.2,1158.2 v5.8"/>
<path d="M129.6,1158.2 v5.8"/>
<path d="M237.9,1158.2 v5.8"/>
<path d="M346.2,1158.2 v5.8"/>
<path d="M454.5,1158.2 v5.8"/>
<path d="M562.8,1158.2 v5.8"/>
<path d="M671.1,1158.2 v5.8"/>
<path d="M779.4,1158.2 v5.8"/>
<path d="M887.7,1158.2 v5.8"/>
<path d="M996,1158.2 v5.8"/>
<path d="M1104.3,1158.2 v5.8"/>
<path d="M1212.6,1158.2 v5.8"/>
<path d="M1320.9,1158.2 v5.8"/>
<path d="M1429.2,1158.2 v5.8"/>
<path d="M1537.5,1158.2 v5.8"/>
<path d="M1645.8,1158.2 v5.8"/>
<path d="M1754.1,1158.2 v5.8"/>
<path d="M1862.4,1158.2 v5.8"/>
<path d="M1970.7,1158.2 v5.8"/>
<path d="M2079,1158.2 v5.8"/>
</g>
<g font-size="14.6" text-anchor="middle">
<text x="20.9" y="1178.7" textLength="26.6" lengthAdjust="spacingAndGlyphs">-9.5</text>
<text x="129.2" y="1178.7" textLength="26.6" lengthAdjust="spacingAndGlyphs">-8.5</text>
<text x="237.5" y="1178.7" textLength="26.6" lengthAdjust="spacingAndGlyphs">-7.5</text>
<text x="345.8" y="1178.7" textLength="26.6" lengthAdjust="spacingAndGlyphs">-6.5</text>
<text x="454.1" y="1178.7" textLength="26.6" lengthAdjust="spacingAndGlyphs">-5.5</text>
<text x="562.4" y="1178.7" textLength="26.6" lengthAdjust="spacingAndGlyphs">-4.5</text>
<text x="670.7" y="1178.7" textLength="26.6" lengthAdjust="spacingAndGlyphs">-3.5</text>
<text x="779" y="1178.7" textLength="26.6" lengthAdjust="spacingAndGlyphs">-2.5</text>
<text x="887.3" y="1178.7" textLength="26.6" lengthAdjust="spacingAndGlyphs">-1.5</text>
<text x="995.6" y="1178.7" textLength="26.6" lengthAdjust="spacingAndGlyphs">-0.5</text>
<text x="1104.6" y="1178.7" textLength="33.2" lengthAdjust="spacingAndGlyphs">+0.5</text>
<text x="1212.9" y="1178.7" textLength="33.2" lengthAdjust="spacingAndGlyphs">+1.5</text>
<text x="1321.2" y="1178.7" textLength="33.2" lengthAdjust="spacingAndGlyphs">+2.5</text>
<text x="1429.5" y="1178.7" textLength="33.2" lengthAdjust="spacingAndGlyphs">+3.5</text>
<text x="1537.8" y="1178.7" textLength="33.2" lengthAdjust="spacingAndGlyphs">+4.5</text>
<text x="1646.1" y="1178.7" textLength="33.2" lengthAdjust="spacingAndGlyphs">+5.5</text>
<text x="1754.4" y="1178.7" textLength="33.2" lengthAdjust="spacingAndGlyphs">+6.5</text>
<text x="1862.7" y="1178.7" textLength="33.2" lengthAdjust="spacingAndGlyphs">+7.5</text>
<text x="1971" y="1178.7" textLength="33.2" lengthAdjust="spacingAndGlyphs">+8.5</text>
<text x="2079.3" y="1178.7" textLength="33.2" lengthAdjust="spacingAndGlyphs">+9.5</text>
</g>
<text x="925.5" y="31" font-size="35.3" text-anchor="start" textLength="236" lengthAdjust="spacingAndGlyphs">AUGUST 1996</text>
<text x="762" y="70" font-size="35.3" text-anchor="start" textLength="586" lengthAdjust="spacingAndGlyphs">LAYER = LT LOWER TROPOSPHERE</text>
<text x="24.3" y="1103.6" font-size="14.6" text-anchor="start" textLength="79" lengthAdjust="spacingAndGlyphs">Version 6.0</text>
<text x="1619" y="1105" font-size="14.6" text-anchor="start" textLength="374" lengthAdjust="spacingAndGlyphs">Copyright 2021 &#169; University of Alabama in Huntsville</text>
<text x="907" y="1208" font-size="26.3" text-anchor="start" textLength="287" lengthAdjust="spacingAndGlyphs">Monthly Anomaly in &#730;C</text>
<text x="367" y="1238" font-size="26.3" text-anchor="start" textLength="1358" lengthAdjust="spacingAndGlyphs">Broken lines outline areas that were cooler than seasonal norms; solid lines outline areas that were warmer</text>
<text x="236" y="1266" font-size="26.3" text-anchor="start" textLength="1627" lengthAdjust="spacingAndGlyphs">than seasonal norms. Each contour represents 1.0 degree Celsius, starting at -0.5 and +0.5 degrees C. Base Period is 1991-2020</text>
</svg></body></html>
